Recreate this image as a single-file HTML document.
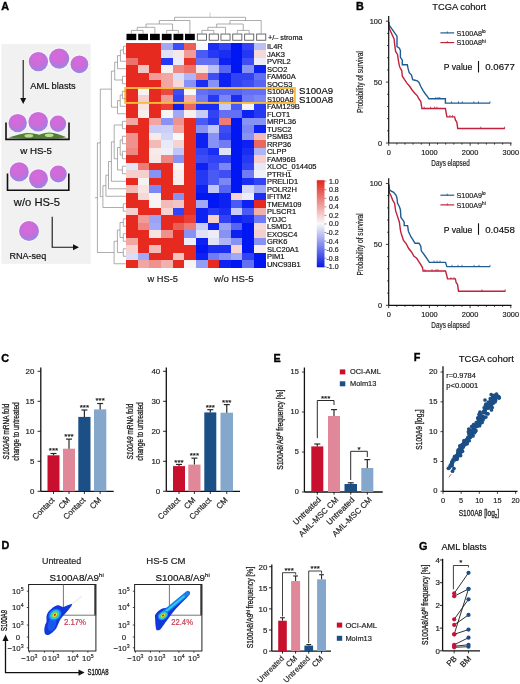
<!DOCTYPE html>
<html><head><meta charset="utf-8"><style>
html,body{margin:0;padding:0;background:#fff;overflow:hidden;width:520px;height:684px;}
svg{display:block;font-family:"Liberation Sans", sans-serif;will-change:transform;}
</style></head><body>
<svg width="520" height="684" viewBox="0 0 520 684">
<rect width="520" height="684" fill="#fff"/>
<text x="1.30" y="10.30" font-size="10.8" font-weight="bold" fill="#000" stroke="#000" stroke-width="0.35">A</text>
<text x="356.00" y="10.20" font-size="10.8" font-weight="bold" fill="#000" stroke="#000" stroke-width="0.35">B</text>
<text x="1.30" y="362.20" font-size="10.8" font-weight="bold" fill="#000" stroke="#000" stroke-width="0.35">C</text>
<text x="1.50" y="549.40" font-size="10.8" font-weight="bold" fill="#000" stroke="#000" stroke-width="0.35">D</text>
<text x="273.50" y="361.70" font-size="10.8" font-weight="bold" fill="#000" stroke="#000" stroke-width="0.35">E</text>
<text x="413.80" y="361.40" font-size="10.8" font-weight="bold" fill="#000" stroke="#000" stroke-width="0.35">F</text>
<text x="418.90" y="550.10" font-size="10.8" font-weight="bold" fill="#000" stroke="#000" stroke-width="0.35">G</text>
<rect x="1.40" y="43.90" width="89.20" height="219.90" fill="#f1f1f1" />
<defs><linearGradient id="cg" x1="0.35" y1="0" x2="0.6" y2="1"><stop offset="0" stop-color="#d466d8"/><stop offset="0.55" stop-color="#cc6cd8"/><stop offset="0.82" stop-color="#a884e0"/><stop offset="1" stop-color="#8c98e6"/></linearGradient></defs>
<defs><radialGradient id="cr" cx="0.45" cy="0.36" r="0.68"><stop offset="0" stop-color="#d66ade"/><stop offset="0.5" stop-color="#cc6cd8"/><stop offset="0.74" stop-color="#b078de"/><stop offset="1" stop-color="#8892e4"/></radialGradient></defs>
<circle cx="38.40" cy="61.60" r="10.70" fill="#fbf8fd" opacity="0.75"/>
<circle cx="38.40" cy="61.60" r="9.70" fill="url(#cr)"/>
<circle cx="59.20" cy="58.60" r="11.10" fill="#fbf8fd" opacity="0.75"/>
<circle cx="59.20" cy="58.60" r="10.10" fill="url(#cr)"/>
<circle cx="79.40" cy="64.30" r="9.90" fill="#fbf8fd" opacity="0.75"/>
<circle cx="79.40" cy="64.30" r="8.90" fill="url(#cr)"/>
<line x1="23.20" y1="60.00" x2="23.20" y2="99.00" stroke="#111" stroke-width="1.1"/>
<path d="M20.2,98 L26.2,98 L23.2,104 Z" fill="#111"/>
<text x="30.30" y="88.90" font-size="9.0" fill="#111" textLength="45.40" lengthAdjust="spacingAndGlyphs"  stroke="#111" stroke-width="0.18">AML blasts</text>
<circle cx="17.70" cy="123.10" r="10.20" fill="#fbf8fd" opacity="0.75"/>
<circle cx="17.70" cy="123.10" r="9.20" fill="url(#cr)"/>
<circle cx="38.20" cy="121.80" r="10.80" fill="#fbf8fd" opacity="0.75"/>
<circle cx="38.20" cy="121.80" r="9.80" fill="url(#cr)"/>
<circle cx="58.00" cy="123.70" r="9.20" fill="#fbf8fd" opacity="0.75"/>
<circle cx="58.00" cy="123.70" r="8.20" fill="url(#cr)"/>
<path d="M8.5,137.6 C16,135.6 22,133.0 28.8,133.0 C35,133.0 40,135.2 45.5,137.4 C40,138.5 35,138.7 28.8,138.7 C22,138.7 15,138.4 8.5,137.6 Z" fill="#4f7f30"/>
<path d="M32.5,137.4 C39,135.0 44,132.6 49.2,132.6 C55,132.6 60,135.0 66.5,137.2 C60,138.4 55,138.6 49.2,138.6 C43,138.6 38,138.3 32.5,137.4 Z" fill="#4f7f30"/>
<ellipse cx="28.8" cy="135.8" rx="4.4" ry="1.8" fill="#b6e08e"/>
<ellipse cx="49.2" cy="135.3" rx="4.4" ry="1.8" fill="#b6e08e"/>
<polyline points="6.00,122.40 6.00,139.40 69.00,139.40 69.00,122.40" fill="none" stroke="#111" stroke-width="1.6" stroke-linejoin="miter"/>
<text x="20.20" y="154.00" font-size="8.8" fill="#111" textLength="31.80" lengthAdjust="spacingAndGlyphs"  stroke="#111" stroke-width="0.18">w HS-5</text>
<circle cx="19.20" cy="171.90" r="10.60" fill="#fbf8fd" opacity="0.75"/>
<circle cx="19.20" cy="171.90" r="9.60" fill="url(#cr)"/>
<circle cx="38.50" cy="178.80" r="10.50" fill="#fbf8fd" opacity="0.75"/>
<circle cx="38.50" cy="178.80" r="9.50" fill="url(#cr)"/>
<circle cx="58.30" cy="174.00" r="9.50" fill="#fbf8fd" opacity="0.75"/>
<circle cx="58.30" cy="174.00" r="8.50" fill="url(#cr)"/>
<polyline points="7.50,173.50 7.50,190.30 68.80,190.30 68.80,173.50" fill="none" stroke="#111" stroke-width="1.6" stroke-linejoin="miter"/>
<text x="13.80" y="206.20" font-size="11.2" fill="#111" textLength="46.20" lengthAdjust="spacingAndGlyphs"  stroke="#111" stroke-width="0.18">w/o HS-5</text>
<circle cx="29.00" cy="231.00" r="11.00" fill="#fbf8fd" opacity="0.75"/>
<circle cx="29.00" cy="231.00" r="10.00" fill="url(#cr)"/>
<text x="9.40" y="258.70" font-size="9.2" fill="#111" textLength="36.80" lengthAdjust="spacingAndGlyphs"  stroke="#111" stroke-width="0.18">RNA-seq</text>
<polyline points="52.20,216.70 52.20,247.20 74.00,247.20" fill="none" stroke="#111" stroke-width="1.1" stroke-linejoin="miter"/>
<path d="M73,244.2 L79,247.2 L73,250.2 Z" fill="#111"/>
<g shape-rendering="crispEdges">
<rect x="126.20" y="42.50" width="11.67" height="7.55" fill="#e62a20" />
<rect x="137.82" y="42.50" width="11.67" height="7.55" fill="#e62a20" />
<rect x="149.43" y="42.50" width="11.67" height="7.55" fill="#e62a20" />
<rect x="161.05" y="42.50" width="11.67" height="7.55" fill="#a1a9f6" />
<rect x="172.67" y="42.50" width="11.67" height="7.55" fill="#3e4ef4" />
<rect x="184.28" y="42.50" width="11.67" height="7.55" fill="#ea5e56" />
<rect x="195.90" y="42.50" width="11.67" height="7.55" fill="#f8f8f8" />
<rect x="207.52" y="42.50" width="11.67" height="7.55" fill="#192df3" />
<rect x="219.13" y="42.50" width="11.67" height="7.55" fill="#3243f3" />
<rect x="230.75" y="42.50" width="11.67" height="7.55" fill="#0016f2" />
<rect x="242.37" y="42.50" width="11.67" height="7.55" fill="#3243f3" />
<rect x="253.98" y="42.50" width="11.67" height="7.55" fill="#bac0f6" />
<rect x="126.20" y="50.00" width="11.67" height="7.55" fill="#e62a20" />
<rect x="137.82" y="50.00" width="11.67" height="7.55" fill="#e62a20" />
<rect x="149.43" y="50.00" width="11.67" height="7.55" fill="#e62a20" />
<rect x="161.05" y="50.00" width="11.67" height="7.55" fill="#dfe1f7" />
<rect x="172.67" y="50.00" width="11.67" height="7.55" fill="#f7e8e7" />
<rect x="184.28" y="50.00" width="11.67" height="7.55" fill="#f09b97" />
<rect x="195.90" y="50.00" width="11.67" height="7.55" fill="#4a5af4" />
<rect x="207.52" y="50.00" width="11.67" height="7.55" fill="#2538f3" />
<rect x="219.13" y="50.00" width="11.67" height="7.55" fill="#192df3" />
<rect x="230.75" y="50.00" width="11.67" height="7.55" fill="#0016f2" />
<rect x="242.37" y="50.00" width="11.67" height="7.55" fill="#2538f3" />
<rect x="253.98" y="50.00" width="11.67" height="7.55" fill="#f5d9d8" />
<rect x="126.20" y="57.50" width="11.67" height="7.55" fill="#ec726c" />
<rect x="137.82" y="57.50" width="11.67" height="7.55" fill="#e62a20" />
<rect x="149.43" y="57.50" width="11.67" height="7.55" fill="#e62a20" />
<rect x="161.05" y="57.50" width="11.67" height="7.55" fill="#2538f3" />
<rect x="172.67" y="57.50" width="11.67" height="7.55" fill="#ecedf8" />
<rect x="184.28" y="57.50" width="11.67" height="7.55" fill="#e7342b" />
<rect x="195.90" y="57.50" width="11.67" height="7.55" fill="#6370f4" />
<rect x="207.52" y="57.50" width="11.67" height="7.55" fill="#6370f4" />
<rect x="219.13" y="57.50" width="11.67" height="7.55" fill="#0c21f2" />
<rect x="230.75" y="57.50" width="11.67" height="7.55" fill="#0016f2" />
<rect x="242.37" y="57.50" width="11.67" height="7.55" fill="#3e4ef4" />
<rect x="253.98" y="57.50" width="11.67" height="7.55" fill="#ecedf8" />
<rect x="126.20" y="65.00" width="11.67" height="7.55" fill="#e62a20" />
<rect x="137.82" y="65.00" width="11.67" height="7.55" fill="#f4c4c2" />
<rect x="149.43" y="65.00" width="11.67" height="7.55" fill="#e62a20" />
<rect x="161.05" y="65.00" width="11.67" height="7.55" fill="#f7f2f2" />
<rect x="172.67" y="65.00" width="11.67" height="7.55" fill="#ee8781" />
<rect x="184.28" y="65.00" width="11.67" height="7.55" fill="#ec726c" />
<rect x="195.90" y="65.00" width="11.67" height="7.55" fill="#f6e3e2" />
<rect x="207.52" y="65.00" width="11.67" height="7.55" fill="#bac0f6" />
<rect x="219.13" y="65.00" width="11.67" height="7.55" fill="#5765f4" />
<rect x="230.75" y="65.00" width="11.67" height="7.55" fill="#0016f2" />
<rect x="242.37" y="65.00" width="11.67" height="7.55" fill="#8892f5" />
<rect x="253.98" y="65.00" width="11.67" height="7.55" fill="#0c21f2" />
<rect x="126.20" y="72.50" width="11.67" height="7.55" fill="#e62a20" />
<rect x="137.82" y="72.50" width="11.67" height="7.55" fill="#e62a20" />
<rect x="149.43" y="72.50" width="11.67" height="7.55" fill="#f09b97" />
<rect x="161.05" y="72.50" width="11.67" height="7.55" fill="#f1a6a2" />
<rect x="172.67" y="72.50" width="11.67" height="7.55" fill="#daddf7" />
<rect x="184.28" y="72.50" width="11.67" height="7.55" fill="#aeb4f6" />
<rect x="195.90" y="72.50" width="11.67" height="7.55" fill="#ed7c76" />
<rect x="207.52" y="72.50" width="11.67" height="7.55" fill="#3e4ef4" />
<rect x="219.13" y="72.50" width="11.67" height="7.55" fill="#0c21f2" />
<rect x="230.75" y="72.50" width="11.67" height="7.55" fill="#3243f3" />
<rect x="242.37" y="72.50" width="11.67" height="7.55" fill="#3243f3" />
<rect x="253.98" y="72.50" width="11.67" height="7.55" fill="#6370f4" />
<rect x="126.20" y="80.00" width="11.67" height="7.55" fill="#e62a20" />
<rect x="137.82" y="80.00" width="11.67" height="7.55" fill="#e62a20" />
<rect x="149.43" y="80.00" width="11.67" height="7.55" fill="#e62a20" />
<rect x="161.05" y="80.00" width="11.67" height="7.55" fill="#f1a6a2" />
<rect x="172.67" y="80.00" width="11.67" height="7.55" fill="#f5d9d8" />
<rect x="184.28" y="80.00" width="11.67" height="7.55" fill="#8892f5" />
<rect x="195.90" y="80.00" width="11.67" height="7.55" fill="#192df3" />
<rect x="207.52" y="80.00" width="11.67" height="7.55" fill="#8892f5" />
<rect x="219.13" y="80.00" width="11.67" height="7.55" fill="#0c21f2" />
<rect x="230.75" y="80.00" width="11.67" height="7.55" fill="#3243f3" />
<rect x="242.37" y="80.00" width="11.67" height="7.55" fill="#3e4ef4" />
<rect x="253.98" y="80.00" width="11.67" height="7.55" fill="#5765f4" />
<rect x="126.20" y="87.50" width="11.67" height="7.55" fill="#e62a20" />
<rect x="137.82" y="87.50" width="11.67" height="7.55" fill="#f7f2f2" />
<rect x="149.43" y="87.50" width="11.67" height="7.55" fill="#e62a20" />
<rect x="161.05" y="87.50" width="11.67" height="7.55" fill="#e94940" />
<rect x="172.67" y="87.50" width="11.67" height="7.55" fill="#3e4ef4" />
<rect x="184.28" y="87.50" width="11.67" height="7.55" fill="#f8f8f8" />
<rect x="195.90" y="87.50" width="11.67" height="7.55" fill="#6370f4" />
<rect x="207.52" y="87.50" width="11.67" height="7.55" fill="#5765f4" />
<rect x="219.13" y="87.50" width="11.67" height="7.55" fill="#5765f4" />
<rect x="230.75" y="87.50" width="11.67" height="7.55" fill="#5765f4" />
<rect x="242.37" y="87.50" width="11.67" height="7.55" fill="#6370f4" />
<rect x="253.98" y="87.50" width="11.67" height="7.55" fill="#6370f4" />
<rect x="126.20" y="95.00" width="11.67" height="7.55" fill="#e62a20" />
<rect x="137.82" y="95.00" width="11.67" height="7.55" fill="#f4cfcd" />
<rect x="149.43" y="95.00" width="11.67" height="7.55" fill="#e62a20" />
<rect x="161.05" y="95.00" width="11.67" height="7.55" fill="#f09b97" />
<rect x="172.67" y="95.00" width="11.67" height="7.55" fill="#3243f3" />
<rect x="184.28" y="95.00" width="11.67" height="7.55" fill="#f2b0ac" />
<rect x="195.90" y="95.00" width="11.67" height="7.55" fill="#707cf5" />
<rect x="207.52" y="95.00" width="11.67" height="7.55" fill="#2538f3" />
<rect x="219.13" y="95.00" width="11.67" height="7.55" fill="#7c87f5" />
<rect x="230.75" y="95.00" width="11.67" height="7.55" fill="#192df3" />
<rect x="242.37" y="95.00" width="11.67" height="7.55" fill="#707cf5" />
<rect x="253.98" y="95.00" width="11.67" height="7.55" fill="#7c87f5" />
<rect x="126.20" y="102.50" width="11.67" height="7.55" fill="#e62a20" />
<rect x="137.82" y="102.50" width="11.67" height="7.55" fill="#f6e3e2" />
<rect x="149.43" y="102.50" width="11.67" height="7.55" fill="#e62a20" />
<rect x="161.05" y="102.50" width="11.67" height="7.55" fill="#e83f36" />
<rect x="172.67" y="102.50" width="11.67" height="7.55" fill="#0c21f2" />
<rect x="184.28" y="102.50" width="11.67" height="7.55" fill="#eb6861" />
<rect x="195.90" y="102.50" width="11.67" height="7.55" fill="#192df3" />
<rect x="207.52" y="102.50" width="11.67" height="7.55" fill="#192df3" />
<rect x="219.13" y="102.50" width="11.67" height="7.55" fill="#c6cbf7" />
<rect x="230.75" y="102.50" width="11.67" height="7.55" fill="#4a5af4" />
<rect x="242.37" y="102.50" width="11.67" height="7.55" fill="#f1f1f8" />
<rect x="253.98" y="102.50" width="11.67" height="7.55" fill="#2538f3" />
<rect x="126.20" y="110.00" width="11.67" height="7.55" fill="#e62a20" />
<rect x="137.82" y="110.00" width="11.67" height="7.55" fill="#f7eeed" />
<rect x="149.43" y="110.00" width="11.67" height="7.55" fill="#e62a20" />
<rect x="161.05" y="110.00" width="11.67" height="7.55" fill="#f8f4f4" />
<rect x="172.67" y="110.00" width="11.67" height="7.55" fill="#a1a9f6" />
<rect x="184.28" y="110.00" width="11.67" height="7.55" fill="#f7eeed" />
<rect x="195.90" y="110.00" width="11.67" height="7.55" fill="#c6cbf7" />
<rect x="207.52" y="110.00" width="11.67" height="7.55" fill="#3243f3" />
<rect x="219.13" y="110.00" width="11.67" height="7.55" fill="#6370f4" />
<rect x="230.75" y="110.00" width="11.67" height="7.55" fill="#6370f4" />
<rect x="242.37" y="110.00" width="11.67" height="7.55" fill="#0c21f2" />
<rect x="253.98" y="110.00" width="11.67" height="7.55" fill="#2538f3" />
<rect x="126.20" y="117.50" width="11.67" height="7.55" fill="#f1a6a2" />
<rect x="137.82" y="117.50" width="11.67" height="7.55" fill="#e62a20" />
<rect x="149.43" y="117.50" width="11.67" height="7.55" fill="#f1a6a2" />
<rect x="161.05" y="117.50" width="11.67" height="7.55" fill="#8892f5" />
<rect x="172.67" y="117.50" width="11.67" height="7.55" fill="#ef918c" />
<rect x="184.28" y="117.50" width="11.67" height="7.55" fill="#e62a20" />
<rect x="195.90" y="117.50" width="11.67" height="7.55" fill="#4a5af4" />
<rect x="207.52" y="117.50" width="11.67" height="7.55" fill="#2538f3" />
<rect x="219.13" y="117.50" width="11.67" height="7.55" fill="#ed7c76" />
<rect x="230.75" y="117.50" width="11.67" height="7.55" fill="#0016f2" />
<rect x="242.37" y="117.50" width="11.67" height="7.55" fill="#8892f5" />
<rect x="253.98" y="117.50" width="11.67" height="7.55" fill="#8892f5" />
<rect x="126.20" y="125.00" width="11.67" height="7.55" fill="#e62a20" />
<rect x="137.82" y="125.00" width="11.67" height="7.55" fill="#e62a20" />
<rect x="149.43" y="125.00" width="11.67" height="7.55" fill="#c6cbf7" />
<rect x="161.05" y="125.00" width="11.67" height="7.55" fill="#cbcff7" />
<rect x="172.67" y="125.00" width="11.67" height="7.55" fill="#f1a6a2" />
<rect x="184.28" y="125.00" width="11.67" height="7.55" fill="#e62a20" />
<rect x="195.90" y="125.00" width="11.67" height="7.55" fill="#8892f5" />
<rect x="207.52" y="125.00" width="11.67" height="7.55" fill="#c1c6f7" />
<rect x="219.13" y="125.00" width="11.67" height="7.55" fill="#3e4ef4" />
<rect x="230.75" y="125.00" width="11.67" height="7.55" fill="#0016f2" />
<rect x="242.37" y="125.00" width="11.67" height="7.55" fill="#7c87f5" />
<rect x="253.98" y="125.00" width="11.67" height="7.55" fill="#0c21f2" />
<rect x="126.20" y="132.50" width="11.67" height="7.55" fill="#ef918c" />
<rect x="137.82" y="132.50" width="11.67" height="7.55" fill="#e62a20" />
<rect x="149.43" y="132.50" width="11.67" height="7.55" fill="#f7eae9" />
<rect x="161.05" y="132.50" width="11.67" height="7.55" fill="#d3d6f7" />
<rect x="172.67" y="132.50" width="11.67" height="7.55" fill="#f8f8f8" />
<rect x="184.28" y="132.50" width="11.67" height="7.55" fill="#e62a20" />
<rect x="195.90" y="132.50" width="11.67" height="7.55" fill="#0c21f2" />
<rect x="207.52" y="132.50" width="11.67" height="7.55" fill="#8892f5" />
<rect x="219.13" y="132.50" width="11.67" height="7.55" fill="#3243f3" />
<rect x="230.75" y="132.50" width="11.67" height="7.55" fill="#0016f2" />
<rect x="242.37" y="132.50" width="11.67" height="7.55" fill="#8892f5" />
<rect x="253.98" y="132.50" width="11.67" height="7.55" fill="#f3bab7" />
<rect x="126.20" y="140.00" width="11.67" height="7.55" fill="#ef918c" />
<rect x="137.82" y="140.00" width="11.67" height="7.55" fill="#e62a20" />
<rect x="149.43" y="140.00" width="11.67" height="7.55" fill="#f3bab7" />
<rect x="161.05" y="140.00" width="11.67" height="7.55" fill="#e9eaf8" />
<rect x="172.67" y="140.00" width="11.67" height="7.55" fill="#f5d3d1" />
<rect x="184.28" y="140.00" width="11.67" height="7.55" fill="#e62a20" />
<rect x="195.90" y="140.00" width="11.67" height="7.55" fill="#0c21f2" />
<rect x="207.52" y="140.00" width="11.67" height="7.55" fill="#8892f5" />
<rect x="219.13" y="140.00" width="11.67" height="7.55" fill="#707cf5" />
<rect x="230.75" y="140.00" width="11.67" height="7.55" fill="#0016f2" />
<rect x="242.37" y="140.00" width="11.67" height="7.55" fill="#0c21f2" />
<rect x="253.98" y="140.00" width="11.67" height="7.55" fill="#eb6861" />
<rect x="126.20" y="147.50" width="11.67" height="7.55" fill="#ee8781" />
<rect x="137.82" y="147.50" width="11.67" height="7.55" fill="#e62a20" />
<rect x="149.43" y="147.50" width="11.67" height="7.55" fill="#f7eae9" />
<rect x="161.05" y="147.50" width="11.67" height="7.55" fill="#eeeff8" />
<rect x="172.67" y="147.50" width="11.67" height="7.55" fill="#c1c6f7" />
<rect x="184.28" y="147.50" width="11.67" height="7.55" fill="#e62a20" />
<rect x="195.90" y="147.50" width="11.67" height="7.55" fill="#3243f3" />
<rect x="207.52" y="147.50" width="11.67" height="7.55" fill="#192df3" />
<rect x="219.13" y="147.50" width="11.67" height="7.55" fill="#dfe1f7" />
<rect x="230.75" y="147.50" width="11.67" height="7.55" fill="#0016f2" />
<rect x="242.37" y="147.50" width="11.67" height="7.55" fill="#192df3" />
<rect x="253.98" y="147.50" width="11.67" height="7.55" fill="#aeb4f6" />
<rect x="126.20" y="155.00" width="11.67" height="7.55" fill="#e62a20" />
<rect x="137.82" y="155.00" width="11.67" height="7.55" fill="#e62a20" />
<rect x="149.43" y="155.00" width="11.67" height="7.55" fill="#f7e8e7" />
<rect x="161.05" y="155.00" width="11.67" height="7.55" fill="#ee8781" />
<rect x="172.67" y="155.00" width="11.67" height="7.55" fill="#8892f5" />
<rect x="184.28" y="155.00" width="11.67" height="7.55" fill="#e62a20" />
<rect x="195.90" y="155.00" width="11.67" height="7.55" fill="#3e4ef4" />
<rect x="207.52" y="155.00" width="11.67" height="7.55" fill="#3243f3" />
<rect x="219.13" y="155.00" width="11.67" height="7.55" fill="#3243f3" />
<rect x="230.75" y="155.00" width="11.67" height="7.55" fill="#0016f2" />
<rect x="242.37" y="155.00" width="11.67" height="7.55" fill="#2538f3" />
<rect x="253.98" y="155.00" width="11.67" height="7.55" fill="#f4cfcd" />
<rect x="126.20" y="162.50" width="11.67" height="7.55" fill="#e4e6f8" />
<rect x="137.82" y="162.50" width="11.67" height="7.55" fill="#ed7c76" />
<rect x="149.43" y="162.50" width="11.67" height="7.55" fill="#e62a20" />
<rect x="161.05" y="162.50" width="11.67" height="7.55" fill="#e62a20" />
<rect x="172.67" y="162.50" width="11.67" height="7.55" fill="#f8f4f4" />
<rect x="184.28" y="162.50" width="11.67" height="7.55" fill="#e62a20" />
<rect x="195.90" y="162.50" width="11.67" height="7.55" fill="#0c21f2" />
<rect x="207.52" y="162.50" width="11.67" height="7.55" fill="#3e4ef4" />
<rect x="219.13" y="162.50" width="11.67" height="7.55" fill="#7c87f5" />
<rect x="230.75" y="162.50" width="11.67" height="7.55" fill="#0016f2" />
<rect x="242.37" y="162.50" width="11.67" height="7.55" fill="#3243f3" />
<rect x="253.98" y="162.50" width="11.67" height="7.55" fill="#e7e8f8" />
<rect x="126.20" y="170.00" width="11.67" height="7.55" fill="#f4cfcd" />
<rect x="137.82" y="170.00" width="11.67" height="7.55" fill="#f4cfcd" />
<rect x="149.43" y="170.00" width="11.67" height="7.55" fill="#8892f5" />
<rect x="161.05" y="170.00" width="11.67" height="7.55" fill="#e62a20" />
<rect x="172.67" y="170.00" width="11.67" height="7.55" fill="#f7eeed" />
<rect x="184.28" y="170.00" width="11.67" height="7.55" fill="#e62a20" />
<rect x="195.90" y="170.00" width="11.67" height="7.55" fill="#2538f3" />
<rect x="207.52" y="170.00" width="11.67" height="7.55" fill="#4a5af4" />
<rect x="219.13" y="170.00" width="11.67" height="7.55" fill="#3e4ef4" />
<rect x="230.75" y="170.00" width="11.67" height="7.55" fill="#0016f2" />
<rect x="242.37" y="170.00" width="11.67" height="7.55" fill="#707cf5" />
<rect x="253.98" y="170.00" width="11.67" height="7.55" fill="#f1f1f8" />
<rect x="126.20" y="177.50" width="11.67" height="7.55" fill="#e62a20" />
<rect x="137.82" y="177.50" width="11.67" height="7.55" fill="#f7f2f2" />
<rect x="149.43" y="177.50" width="11.67" height="7.55" fill="#e62a20" />
<rect x="161.05" y="177.50" width="11.67" height="7.55" fill="#e62a20" />
<rect x="172.67" y="177.50" width="11.67" height="7.55" fill="#f7eceb" />
<rect x="184.28" y="177.50" width="11.67" height="7.55" fill="#e62a20" />
<rect x="195.90" y="177.50" width="11.67" height="7.55" fill="#2538f3" />
<rect x="207.52" y="177.50" width="11.67" height="7.55" fill="#4a5af4" />
<rect x="219.13" y="177.50" width="11.67" height="7.55" fill="#7c87f5" />
<rect x="230.75" y="177.50" width="11.67" height="7.55" fill="#0016f2" />
<rect x="242.37" y="177.50" width="11.67" height="7.55" fill="#192df3" />
<rect x="253.98" y="177.50" width="11.67" height="7.55" fill="#3243f3" />
<rect x="126.20" y="185.00" width="11.67" height="7.55" fill="#f3bab7" />
<rect x="137.82" y="185.00" width="11.67" height="7.55" fill="#f6e3e2" />
<rect x="149.43" y="185.00" width="11.67" height="7.55" fill="#7c87f5" />
<rect x="161.05" y="185.00" width="11.67" height="7.55" fill="#e62a20" />
<rect x="172.67" y="185.00" width="11.67" height="7.55" fill="#e62a20" />
<rect x="184.28" y="185.00" width="11.67" height="7.55" fill="#e62a20" />
<rect x="195.90" y="185.00" width="11.67" height="7.55" fill="#0c21f2" />
<rect x="207.52" y="185.00" width="11.67" height="7.55" fill="#c1c6f7" />
<rect x="219.13" y="185.00" width="11.67" height="7.55" fill="#5765f4" />
<rect x="230.75" y="185.00" width="11.67" height="7.55" fill="#0016f2" />
<rect x="242.37" y="185.00" width="11.67" height="7.55" fill="#d3d6f7" />
<rect x="253.98" y="185.00" width="11.67" height="7.55" fill="#a1a9f6" />
<rect x="126.20" y="192.50" width="11.67" height="7.55" fill="#e62a20" />
<rect x="137.82" y="192.50" width="11.67" height="7.55" fill="#f5d9d8" />
<rect x="149.43" y="192.50" width="11.67" height="7.55" fill="#f8f4f4" />
<rect x="161.05" y="192.50" width="11.67" height="7.55" fill="#e62a20" />
<rect x="172.67" y="192.50" width="11.67" height="7.55" fill="#8892f5" />
<rect x="184.28" y="192.50" width="11.67" height="7.55" fill="#e62a20" />
<rect x="195.90" y="192.50" width="11.67" height="7.55" fill="#0016f2" />
<rect x="207.52" y="192.50" width="11.67" height="7.55" fill="#0016f2" />
<rect x="219.13" y="192.50" width="11.67" height="7.55" fill="#0c21f2" />
<rect x="230.75" y="192.50" width="11.67" height="7.55" fill="#f5d3d1" />
<rect x="242.37" y="192.50" width="11.67" height="7.55" fill="#ecedf8" />
<rect x="253.98" y="192.50" width="11.67" height="7.55" fill="#192df3" />
<rect x="126.20" y="200.00" width="11.67" height="7.55" fill="#e62a20" />
<rect x="137.82" y="200.00" width="11.67" height="7.55" fill="#e62a20" />
<rect x="149.43" y="200.00" width="11.67" height="7.55" fill="#f8f4f4" />
<rect x="161.05" y="200.00" width="11.67" height="7.55" fill="#f3bab7" />
<rect x="172.67" y="200.00" width="11.67" height="7.55" fill="#f4c4c2" />
<rect x="184.28" y="200.00" width="11.67" height="7.55" fill="#e62a20" />
<rect x="195.90" y="200.00" width="11.67" height="7.55" fill="#a1a9f6" />
<rect x="207.52" y="200.00" width="11.67" height="7.55" fill="#0016f2" />
<rect x="219.13" y="200.00" width="11.67" height="7.55" fill="#0c21f2" />
<rect x="230.75" y="200.00" width="11.67" height="7.55" fill="#4a5af4" />
<rect x="242.37" y="200.00" width="11.67" height="7.55" fill="#0c21f2" />
<rect x="253.98" y="200.00" width="11.67" height="7.55" fill="#e62a20" />
<rect x="126.20" y="207.50" width="11.67" height="7.55" fill="#f4cfcd" />
<rect x="137.82" y="207.50" width="11.67" height="7.55" fill="#e62a20" />
<rect x="149.43" y="207.50" width="11.67" height="7.55" fill="#e62a20" />
<rect x="161.05" y="207.50" width="11.67" height="7.55" fill="#f5d3d1" />
<rect x="172.67" y="207.50" width="11.67" height="7.55" fill="#3243f3" />
<rect x="184.28" y="207.50" width="11.67" height="7.55" fill="#e62a20" />
<rect x="195.90" y="207.50" width="11.67" height="7.55" fill="#0c21f2" />
<rect x="207.52" y="207.50" width="11.67" height="7.55" fill="#2538f3" />
<rect x="219.13" y="207.50" width="11.67" height="7.55" fill="#192df3" />
<rect x="230.75" y="207.50" width="11.67" height="7.55" fill="#c6cbf7" />
<rect x="242.37" y="207.50" width="11.67" height="7.55" fill="#4a5af4" />
<rect x="253.98" y="207.50" width="11.67" height="7.55" fill="#f2b0ac" />
<rect x="126.20" y="215.00" width="11.67" height="7.55" fill="#e62a20" />
<rect x="137.82" y="215.00" width="11.67" height="7.55" fill="#f09b97" />
<rect x="149.43" y="215.00" width="11.67" height="7.55" fill="#9aa2f6" />
<rect x="161.05" y="215.00" width="11.67" height="7.55" fill="#e62a20" />
<rect x="172.67" y="215.00" width="11.67" height="7.55" fill="#e62a20" />
<rect x="184.28" y="215.00" width="11.67" height="7.55" fill="#e83f36" />
<rect x="195.90" y="215.00" width="11.67" height="7.55" fill="#0c21f2" />
<rect x="207.52" y="215.00" width="11.67" height="7.55" fill="#f4cfcd" />
<rect x="219.13" y="215.00" width="11.67" height="7.55" fill="#3243f3" />
<rect x="230.75" y="215.00" width="11.67" height="7.55" fill="#0c21f2" />
<rect x="242.37" y="215.00" width="11.67" height="7.55" fill="#192df3" />
<rect x="253.98" y="215.00" width="11.67" height="7.55" fill="#707cf5" />
<rect x="126.20" y="222.50" width="11.67" height="7.55" fill="#e62a20" />
<rect x="137.82" y="222.50" width="11.67" height="7.55" fill="#ee8781" />
<rect x="149.43" y="222.50" width="11.67" height="7.55" fill="#a1a9f6" />
<rect x="161.05" y="222.50" width="11.67" height="7.55" fill="#e62a20" />
<rect x="172.67" y="222.50" width="11.67" height="7.55" fill="#ea5e56" />
<rect x="184.28" y="222.50" width="11.67" height="7.55" fill="#ed7c76" />
<rect x="195.90" y="222.50" width="11.67" height="7.55" fill="#c6cbf7" />
<rect x="207.52" y="222.50" width="11.67" height="7.55" fill="#0c21f2" />
<rect x="219.13" y="222.50" width="11.67" height="7.55" fill="#9aa2f6" />
<rect x="230.75" y="222.50" width="11.67" height="7.55" fill="#5765f4" />
<rect x="242.37" y="222.50" width="11.67" height="7.55" fill="#0016f2" />
<rect x="253.98" y="222.50" width="11.67" height="7.55" fill="#f5d9d8" />
<rect x="126.20" y="230.00" width="11.67" height="7.55" fill="#e62a20" />
<rect x="137.82" y="230.00" width="11.67" height="7.55" fill="#e62a20" />
<rect x="149.43" y="230.00" width="11.67" height="7.55" fill="#f6e3e2" />
<rect x="161.05" y="230.00" width="11.67" height="7.55" fill="#ef918c" />
<rect x="172.67" y="230.00" width="11.67" height="7.55" fill="#e62a20" />
<rect x="184.28" y="230.00" width="11.67" height="7.55" fill="#8892f5" />
<rect x="195.90" y="230.00" width="11.67" height="7.55" fill="#dfe1f7" />
<rect x="207.52" y="230.00" width="11.67" height="7.55" fill="#ecedf8" />
<rect x="219.13" y="230.00" width="11.67" height="7.55" fill="#8892f5" />
<rect x="230.75" y="230.00" width="11.67" height="7.55" fill="#0c21f2" />
<rect x="242.37" y="230.00" width="11.67" height="7.55" fill="#0016f2" />
<rect x="253.98" y="230.00" width="11.67" height="7.55" fill="#f4cfcd" />
<rect x="126.20" y="237.50" width="11.67" height="7.55" fill="#f1a6a2" />
<rect x="137.82" y="237.50" width="11.67" height="7.55" fill="#e62a20" />
<rect x="149.43" y="237.50" width="11.67" height="7.55" fill="#e62a20" />
<rect x="161.05" y="237.50" width="11.67" height="7.55" fill="#e62a20" />
<rect x="172.67" y="237.50" width="11.67" height="7.55" fill="#e62a20" />
<rect x="184.28" y="237.50" width="11.67" height="7.55" fill="#ecedf8" />
<rect x="195.90" y="237.50" width="11.67" height="7.55" fill="#0c21f2" />
<rect x="207.52" y="237.50" width="11.67" height="7.55" fill="#dfe1f7" />
<rect x="219.13" y="237.50" width="11.67" height="7.55" fill="#aeb4f6" />
<rect x="230.75" y="237.50" width="11.67" height="7.55" fill="#8892f5" />
<rect x="242.37" y="237.50" width="11.67" height="7.55" fill="#0016f2" />
<rect x="253.98" y="237.50" width="11.67" height="7.55" fill="#8892f5" />
<rect x="126.20" y="245.00" width="11.67" height="7.55" fill="#f5d3d1" />
<rect x="137.82" y="245.00" width="11.67" height="7.55" fill="#e62a20" />
<rect x="149.43" y="245.00" width="11.67" height="7.55" fill="#f3bab7" />
<rect x="161.05" y="245.00" width="11.67" height="7.55" fill="#e62a20" />
<rect x="172.67" y="245.00" width="11.67" height="7.55" fill="#e62a20" />
<rect x="184.28" y="245.00" width="11.67" height="7.55" fill="#e62a20" />
<rect x="195.90" y="245.00" width="11.67" height="7.55" fill="#0016f2" />
<rect x="207.52" y="245.00" width="11.67" height="7.55" fill="#192df3" />
<rect x="219.13" y="245.00" width="11.67" height="7.55" fill="#192df3" />
<rect x="230.75" y="245.00" width="11.67" height="7.55" fill="#f5d3d1" />
<rect x="242.37" y="245.00" width="11.67" height="7.55" fill="#0016f2" />
<rect x="253.98" y="245.00" width="11.67" height="7.55" fill="#f7eeed" />
<rect x="126.20" y="252.50" width="11.67" height="7.55" fill="#daddf7" />
<rect x="137.82" y="252.50" width="11.67" height="7.55" fill="#a1a9f6" />
<rect x="149.43" y="252.50" width="11.67" height="7.55" fill="#e62a20" />
<rect x="161.05" y="252.50" width="11.67" height="7.55" fill="#e62a20" />
<rect x="172.67" y="252.50" width="11.67" height="7.55" fill="#f4c4c2" />
<rect x="184.28" y="252.50" width="11.67" height="7.55" fill="#e62a20" />
<rect x="195.90" y="252.50" width="11.67" height="7.55" fill="#0c21f2" />
<rect x="207.52" y="252.50" width="11.67" height="7.55" fill="#707cf5" />
<rect x="219.13" y="252.50" width="11.67" height="7.55" fill="#8892f5" />
<rect x="230.75" y="252.50" width="11.67" height="7.55" fill="#a1a9f6" />
<rect x="242.37" y="252.50" width="11.67" height="7.55" fill="#3243f3" />
<rect x="253.98" y="252.50" width="11.67" height="7.55" fill="#0016f2" />
<rect x="126.20" y="260.00" width="11.67" height="7.55" fill="#e62a20" />
<rect x="137.82" y="260.00" width="11.67" height="7.55" fill="#f1a6a2" />
<rect x="149.43" y="260.00" width="11.67" height="7.55" fill="#ef918c" />
<rect x="161.05" y="260.00" width="11.67" height="7.55" fill="#f2b0ac" />
<rect x="172.67" y="260.00" width="11.67" height="7.55" fill="#e62a20" />
<rect x="184.28" y="260.00" width="11.67" height="7.55" fill="#f8f4f4" />
<rect x="195.90" y="260.00" width="11.67" height="7.55" fill="#959ef6" />
<rect x="207.52" y="260.00" width="11.67" height="7.55" fill="#e62a20" />
<rect x="219.13" y="260.00" width="11.67" height="7.55" fill="#0c21f2" />
<rect x="230.75" y="260.00" width="11.67" height="7.55" fill="#0016f2" />
<rect x="242.37" y="260.00" width="11.67" height="7.55" fill="#6370f4" />
<rect x="253.98" y="260.00" width="11.67" height="7.55" fill="#0016f2" />
</g>
<rect x="125.2" y="88.0" width="169.70" height="14.9" fill="none" stroke="#f6bc3e" stroke-width="1.9"/>
<text x="266.90" y="49.45" font-size="7.5" fill="#111"  stroke="#111" stroke-width="0.18">IL4R</text>
<text x="266.90" y="56.95" font-size="7.5" fill="#111"  stroke="#111" stroke-width="0.18">JAK3</text>
<text x="266.90" y="64.45" font-size="7.5" fill="#111"  stroke="#111" stroke-width="0.18">PVRL2</text>
<text x="266.90" y="71.95" font-size="7.5" fill="#111"  stroke="#111" stroke-width="0.18">SCO2</text>
<text x="266.90" y="79.45" font-size="7.5" fill="#111"  stroke="#111" stroke-width="0.18">FAM60A</text>
<text x="266.90" y="86.95" font-size="7.5" fill="#111"  stroke="#111" stroke-width="0.18">SOCS3</text>
<text x="266.90" y="94.45" font-size="7.5" fill="#111"  stroke="#111" stroke-width="0.18">S100A9</text>
<text x="266.90" y="101.95" font-size="7.5" fill="#111"  stroke="#111" stroke-width="0.18">S100A8</text>
<text x="266.90" y="109.45" font-size="7.5" fill="#111"  stroke="#111" stroke-width="0.18">FAM129B</text>
<text x="266.90" y="116.95" font-size="7.5" fill="#111"  stroke="#111" stroke-width="0.18">FLOT1</text>
<text x="266.90" y="124.45" font-size="7.5" fill="#111"  stroke="#111" stroke-width="0.18">MRPL36</text>
<text x="266.90" y="131.95" font-size="7.5" fill="#111"  stroke="#111" stroke-width="0.18">TUSC2</text>
<text x="266.90" y="139.45" font-size="7.5" fill="#111"  stroke="#111" stroke-width="0.18">PSMB3</text>
<text x="266.90" y="146.95" font-size="7.5" fill="#111"  stroke="#111" stroke-width="0.18">RRP36</text>
<text x="266.90" y="154.45" font-size="7.5" fill="#111"  stroke="#111" stroke-width="0.18">CLPP</text>
<text x="266.90" y="161.95" font-size="7.5" fill="#111"  stroke="#111" stroke-width="0.18">FAM96B</text>
<text x="266.90" y="169.45" font-size="7.5" fill="#111"  stroke="#111" stroke-width="0.18">XLOC_014405</text>
<text x="266.90" y="176.95" font-size="7.5" fill="#111"  stroke="#111" stroke-width="0.18">PTRH1</text>
<text x="266.90" y="184.45" font-size="7.5" fill="#111"  stroke="#111" stroke-width="0.18">PRELID1</text>
<text x="266.90" y="191.95" font-size="7.5" fill="#111"  stroke="#111" stroke-width="0.18">POLR2H</text>
<text x="266.90" y="199.45" font-size="7.5" fill="#111"  stroke="#111" stroke-width="0.18">IFITM2</text>
<text x="266.90" y="206.95" font-size="7.5" fill="#111"  stroke="#111" stroke-width="0.18">TMEM109</text>
<text x="266.90" y="214.45" font-size="7.5" fill="#111"  stroke="#111" stroke-width="0.18">PLSCR1</text>
<text x="266.90" y="221.95" font-size="7.5" fill="#111"  stroke="#111" stroke-width="0.18">YDJC</text>
<text x="266.90" y="229.45" font-size="7.5" fill="#111"  stroke="#111" stroke-width="0.18">LSMD1</text>
<text x="266.90" y="236.95" font-size="7.5" fill="#111"  stroke="#111" stroke-width="0.18">EXOSC4</text>
<text x="266.90" y="244.45" font-size="7.5" fill="#111"  stroke="#111" stroke-width="0.18">GRK6</text>
<text x="266.90" y="251.95" font-size="7.5" fill="#111"  stroke="#111" stroke-width="0.18">SLC20A1</text>
<text x="266.90" y="259.45" font-size="7.5" fill="#111"  stroke="#111" stroke-width="0.18">PIM1</text>
<text x="266.90" y="266.95" font-size="7.5" fill="#111"  stroke="#111" stroke-width="0.18">UNC93B1</text>
<text x="299.00" y="94.20" font-size="9.0" fill="#111" textLength="34.20" lengthAdjust="spacingAndGlyphs"  stroke="#111" stroke-width="0.18">S100A9</text>
<text x="299.00" y="102.70" font-size="9.0" fill="#111" textLength="34.20" lengthAdjust="spacingAndGlyphs"  stroke="#111" stroke-width="0.18">S100A8</text>
<rect x="126.50" y="33.80" width="9.80" height="6.30" fill="#000" />
<rect x="138.20" y="33.80" width="9.80" height="6.30" fill="#000" />
<rect x="150.00" y="33.80" width="9.80" height="6.30" fill="#000" />
<rect x="161.80" y="33.80" width="9.80" height="6.30" fill="#000" />
<rect x="173.50" y="33.80" width="9.80" height="6.30" fill="#000" />
<rect x="185.00" y="33.80" width="9.80" height="6.30" fill="#000" />
<rect x="197.35" y="34.05" width="9.1" height="6.2" fill="#fff" stroke="#5a5a5a" stroke-width="0.9"/>
<rect x="209.25" y="34.05" width="9.1" height="6.2" fill="#fff" stroke="#5a5a5a" stroke-width="0.9"/>
<rect x="220.95" y="34.05" width="9.1" height="6.2" fill="#fff" stroke="#5a5a5a" stroke-width="0.9"/>
<rect x="232.75" y="34.05" width="9.1" height="6.2" fill="#fff" stroke="#5a5a5a" stroke-width="0.9"/>
<rect x="244.65" y="34.05" width="9.1" height="6.2" fill="#fff" stroke="#5a5a5a" stroke-width="0.9"/>
<rect x="256.65" y="34.05" width="9.1" height="6.2" fill="#fff" stroke="#5a5a5a" stroke-width="0.9"/>
<text x="267.90" y="39.50" font-size="7.3" fill="#111"  stroke="#111" stroke-width="0.18">+/– stroma</text>
<polyline points="131.40,33.80 131.40,30.40 143.10,30.40 143.10,33.80" fill="none" stroke="#8a8a8a" stroke-width="0.7" stroke-linejoin="miter"/>
<polyline points="137.25,30.40 137.25,27.30 154.90,27.30 154.90,33.80" fill="none" stroke="#8a8a8a" stroke-width="0.7" stroke-linejoin="miter"/>
<polyline points="166.70,33.80 166.70,30.40 178.40,30.40 178.40,33.80" fill="none" stroke="#8a8a8a" stroke-width="0.7" stroke-linejoin="miter"/>
<polyline points="146.07,27.30 146.07,24.00 172.55,24.00 172.55,30.40" fill="none" stroke="#8a8a8a" stroke-width="0.7" stroke-linejoin="miter"/>
<polyline points="159.31,24.00 159.31,20.50 189.90,20.50 189.90,33.80" fill="none" stroke="#8a8a8a" stroke-width="0.7" stroke-linejoin="miter"/>
<polyline points="201.90,33.80 201.90,30.40 213.80,30.40 213.80,33.80" fill="none" stroke="#8a8a8a" stroke-width="0.7" stroke-linejoin="miter"/>
<polyline points="207.85,30.40 207.85,27.30 225.50,27.30 225.50,33.80" fill="none" stroke="#8a8a8a" stroke-width="0.7" stroke-linejoin="miter"/>
<polyline points="237.30,33.80 237.30,30.40 249.20,30.40 249.20,33.80" fill="none" stroke="#8a8a8a" stroke-width="0.7" stroke-linejoin="miter"/>
<polyline points="216.68,27.30 216.68,24.00 243.25,24.00 243.25,30.40" fill="none" stroke="#8a8a8a" stroke-width="0.7" stroke-linejoin="miter"/>
<polyline points="229.96,24.00 229.96,20.50 261.20,20.50 261.20,33.80" fill="none" stroke="#8a8a8a" stroke-width="0.7" stroke-linejoin="miter"/>
<polyline points="174.61,20.50 174.61,17.30 245.58,17.30 245.58,20.50" fill="none" stroke="#8a8a8a" stroke-width="0.7" stroke-linejoin="miter"/>
<line x1="210.09" y1="17.30" x2="210.09" y2="12.50" stroke="#a8a8a8" stroke-width="0.6"/>
<polyline points="126.00,46.25 123.50,46.25 123.50,53.75 126.00,53.75" fill="none" stroke="#8a8a8a" stroke-width="0.7" stroke-linejoin="miter"/>
<polyline points="123.50,50.00 120.40,50.00 120.40,61.25 126.00,61.25" fill="none" stroke="#8a8a8a" stroke-width="0.7" stroke-linejoin="miter"/>
<polyline points="120.40,55.62 117.50,55.62 117.50,68.75 126.00,68.75" fill="none" stroke="#8a8a8a" stroke-width="0.7" stroke-linejoin="miter"/>
<polyline points="126.00,76.25 122.50,76.25 122.50,83.75 126.00,83.75" fill="none" stroke="#8a8a8a" stroke-width="0.7" stroke-linejoin="miter"/>
<polyline points="117.50,62.19 114.70,62.19 114.70,80.00 122.50,80.00" fill="none" stroke="#8a8a8a" stroke-width="0.7" stroke-linejoin="miter"/>
<polyline points="126.00,91.25 122.40,91.25 122.40,98.75 126.00,98.75" fill="none" stroke="#8a8a8a" stroke-width="0.7" stroke-linejoin="miter"/>
<polyline points="122.40,95.00 120.20,95.00 120.20,106.25 126.00,106.25" fill="none" stroke="#8a8a8a" stroke-width="0.7" stroke-linejoin="miter"/>
<polyline points="120.20,100.62 117.50,100.62 117.50,113.75 126.00,113.75" fill="none" stroke="#8a8a8a" stroke-width="0.7" stroke-linejoin="miter"/>
<polyline points="114.70,71.09 111.40,71.09 111.40,107.19 117.50,107.19" fill="none" stroke="#8a8a8a" stroke-width="0.7" stroke-linejoin="miter"/>
<polyline points="126.00,121.25 122.40,121.25 122.40,128.75 126.00,128.75" fill="none" stroke="#8a8a8a" stroke-width="0.7" stroke-linejoin="miter"/>
<polyline points="126.00,136.25 122.40,136.25 122.40,143.75 126.00,143.75" fill="none" stroke="#8a8a8a" stroke-width="0.7" stroke-linejoin="miter"/>
<polyline points="126.00,151.25 122.40,151.25 122.40,158.75 126.00,158.75" fill="none" stroke="#8a8a8a" stroke-width="0.7" stroke-linejoin="miter"/>
<polyline points="122.40,140.00 120.20,140.00 120.20,155.00 122.40,155.00" fill="none" stroke="#8a8a8a" stroke-width="0.7" stroke-linejoin="miter"/>
<polyline points="126.00,166.25 122.40,166.25 122.40,173.75 126.00,173.75" fill="none" stroke="#8a8a8a" stroke-width="0.7" stroke-linejoin="miter"/>
<polyline points="120.20,147.50 117.50,147.50 117.50,170.00 122.40,170.00" fill="none" stroke="#8a8a8a" stroke-width="0.7" stroke-linejoin="miter"/>
<polyline points="122.40,125.00 114.20,125.00 114.20,158.75 117.50,158.75" fill="none" stroke="#8a8a8a" stroke-width="0.7" stroke-linejoin="miter"/>
<polyline points="114.20,141.88 111.40,141.88 111.40,181.25 126.00,181.25" fill="none" stroke="#8a8a8a" stroke-width="0.7" stroke-linejoin="miter"/>
<polyline points="111.40,161.56 108.50,161.56 108.50,188.75 126.00,188.75" fill="none" stroke="#8a8a8a" stroke-width="0.7" stroke-linejoin="miter"/>
<polyline points="108.50,175.16 105.90,175.16 105.90,196.25 126.00,196.25" fill="none" stroke="#8a8a8a" stroke-width="0.7" stroke-linejoin="miter"/>
<polyline points="126.00,203.75 123.30,203.75 123.30,211.25 126.00,211.25" fill="none" stroke="#8a8a8a" stroke-width="0.7" stroke-linejoin="miter"/>
<polyline points="105.90,185.70 102.90,185.70 102.90,207.50 123.30,207.50" fill="none" stroke="#8a8a8a" stroke-width="0.7" stroke-linejoin="miter"/>
<polyline points="111.40,89.14 100.30,89.14 100.30,196.60 102.90,196.60" fill="none" stroke="#8a8a8a" stroke-width="0.7" stroke-linejoin="miter"/>
<polyline points="126.00,218.75 123.30,218.75 123.30,226.25 126.00,226.25" fill="none" stroke="#8a8a8a" stroke-width="0.7" stroke-linejoin="miter"/>
<polyline points="126.00,233.75 123.30,233.75 123.30,241.25 126.00,241.25" fill="none" stroke="#8a8a8a" stroke-width="0.7" stroke-linejoin="miter"/>
<polyline points="123.30,222.50 120.00,222.50 120.00,237.50 123.30,237.50" fill="none" stroke="#8a8a8a" stroke-width="0.7" stroke-linejoin="miter"/>
<polyline points="126.00,248.75 123.30,248.75 123.30,256.25 126.00,256.25" fill="none" stroke="#8a8a8a" stroke-width="0.7" stroke-linejoin="miter"/>
<polyline points="120.00,230.00 117.40,230.00 117.40,252.50 123.30,252.50" fill="none" stroke="#8a8a8a" stroke-width="0.7" stroke-linejoin="miter"/>
<polyline points="117.40,241.25 114.10,241.25 114.10,263.75 126.00,263.75" fill="none" stroke="#8a8a8a" stroke-width="0.7" stroke-linejoin="miter"/>
<polyline points="100.30,142.87 97.40,142.87 97.40,252.50 114.10,252.50" fill="none" stroke="#8a8a8a" stroke-width="0.7" stroke-linejoin="miter"/>
<line x1="95.00" y1="197.69" x2="97.40" y2="197.69" stroke="#8a8a8a" stroke-width="0.7"/>
<text x="147.60" y="281.60" font-size="8.8" fill="#222" textLength="30.40" lengthAdjust="spacingAndGlyphs"  stroke="#222" stroke-width="0.18">w HS-5</text>
<text x="214.00" y="281.60" font-size="8.8" fill="#222" textLength="39.50" lengthAdjust="spacingAndGlyphs"  stroke="#222" stroke-width="0.18">w/o HS-5</text>
<defs><linearGradient id="cb" x1="0" y1="0" x2="0" y2="1"><stop offset="0" stop-color="#e2261c"/><stop offset="0.5" stop-color="#f8f8f8"/><stop offset="1" stop-color="#0818e2"/></linearGradient></defs>
<rect x="316.80" y="180.20" width="7.70" height="87.10" fill="url(#cb)" />
<line x1="324.50" y1="181.20" x2="326.30" y2="181.20" stroke="#444" stroke-width="0.6"/>
<text x="329.00" y="183.70" font-size="7.0" fill="#222"  stroke="#222" stroke-width="0.18">1.0</text>
<line x1="324.50" y1="189.75" x2="326.30" y2="189.75" stroke="#444" stroke-width="0.6"/>
<text x="329.00" y="192.25" font-size="7.0" fill="#222"  stroke="#222" stroke-width="0.18">0.8</text>
<line x1="324.50" y1="198.30" x2="326.30" y2="198.30" stroke="#444" stroke-width="0.6"/>
<text x="329.00" y="200.80" font-size="7.0" fill="#222"  stroke="#222" stroke-width="0.18">0.6</text>
<line x1="324.50" y1="206.85" x2="326.30" y2="206.85" stroke="#444" stroke-width="0.6"/>
<text x="329.00" y="209.35" font-size="7.0" fill="#222"  stroke="#222" stroke-width="0.18">0.4</text>
<line x1="324.50" y1="215.40" x2="326.30" y2="215.40" stroke="#444" stroke-width="0.6"/>
<text x="329.00" y="217.90" font-size="7.0" fill="#222"  stroke="#222" stroke-width="0.18">0.2</text>
<line x1="324.50" y1="223.95" x2="326.30" y2="223.95" stroke="#444" stroke-width="0.6"/>
<text x="329.00" y="226.45" font-size="7.0" fill="#222"  stroke="#222" stroke-width="0.18">0.0</text>
<line x1="324.50" y1="232.50" x2="326.30" y2="232.50" stroke="#444" stroke-width="0.6"/>
<text x="326.50" y="235.00" font-size="7.0" fill="#222"  stroke="#222" stroke-width="0.18">-0.2</text>
<line x1="324.50" y1="241.05" x2="326.30" y2="241.05" stroke="#444" stroke-width="0.6"/>
<text x="326.50" y="243.55" font-size="7.0" fill="#222"  stroke="#222" stroke-width="0.18">-0.4</text>
<line x1="324.50" y1="249.60" x2="326.30" y2="249.60" stroke="#444" stroke-width="0.6"/>
<text x="326.50" y="252.10" font-size="7.0" fill="#222"  stroke="#222" stroke-width="0.18">-0.6</text>
<line x1="324.50" y1="258.15" x2="326.30" y2="258.15" stroke="#444" stroke-width="0.6"/>
<text x="326.50" y="260.65" font-size="7.0" fill="#222"  stroke="#222" stroke-width="0.18">-0.8</text>
<line x1="324.50" y1="266.70" x2="326.30" y2="266.70" stroke="#444" stroke-width="0.6"/>
<text x="326.50" y="269.20" font-size="7.0" fill="#222"  stroke="#222" stroke-width="0.18">-1.0</text>
<text x="432.30" y="10.40" font-size="9.8" fill="#111" textLength="53.90" lengthAdjust="spacingAndGlyphs"  stroke="#111" stroke-width="0.18">TCGA cohort</text>
<polyline points="388.80,22.00 388.80,24.60 392.20,29.40 397.00,36.20 397.00,46.70 399.40,48.20 400.40,50.60 400.40,57.30 402.30,60.20 402.30,64.80 407.30,64.80 408.10,68.70 409.20,72.70 411.50,75.00 412.70,79.60 415.00,80.20 417.30,80.80 419.00,82.50 420.80,86.50 423.10,90.60 425.40,94.00 427.70,96.90 428.80,98.80 445.40,98.80 445.40,103.10 490.00,103.10" fill="none" stroke="#1f5b94" stroke-width="1.4" stroke-linejoin="miter"/>
<polyline points="388.80,22.00 389.30,28.50 394.10,39.00 394.60,43.80 395.60,51.50 397.50,54.40 398.50,61.20 399.40,65.90 400.00,67.50 401.80,70.80 402.30,76.20 404.60,79.60 406.90,83.10 409.80,86.50 412.10,90.00 415.00,93.50 417.30,95.80 418.50,98.10 420.80,101.50 421.90,108.50 445.40,108.50 446.20,113.10 446.90,116.90 454.60,116.90 455.40,120.00 456.90,122.30 457.70,128.50 504.80,128.50" fill="none" stroke="#c2203c" stroke-width="1.4" stroke-linejoin="miter"/>
<line x1="435.80" y1="97.00" x2="435.80" y2="99.00" stroke="#1f5b94" stroke-width="0.8"/>
<line x1="438.10" y1="97.00" x2="438.10" y2="99.00" stroke="#1f5b94" stroke-width="0.8"/>
<line x1="439.80" y1="97.00" x2="439.80" y2="99.00" stroke="#1f5b94" stroke-width="0.8"/>
<line x1="451.50" y1="101.30" x2="451.50" y2="103.30" stroke="#1f5b94" stroke-width="0.8"/>
<line x1="458.50" y1="101.30" x2="458.50" y2="103.30" stroke="#1f5b94" stroke-width="0.8"/>
<line x1="462.30" y1="101.30" x2="462.30" y2="103.30" stroke="#1f5b94" stroke-width="0.8"/>
<line x1="473.80" y1="101.30" x2="473.80" y2="103.30" stroke="#1f5b94" stroke-width="0.8"/>
<line x1="478.50" y1="101.30" x2="478.50" y2="103.30" stroke="#1f5b94" stroke-width="0.8"/>
<line x1="490.00" y1="101.30" x2="490.00" y2="103.30" stroke="#1f5b94" stroke-width="0.8"/>
<line x1="424.20" y1="106.70" x2="424.20" y2="108.70" stroke="#c2203c" stroke-width="0.8"/>
<line x1="430.60" y1="106.70" x2="430.60" y2="108.70" stroke="#c2203c" stroke-width="0.8"/>
<line x1="434.60" y1="106.70" x2="434.60" y2="108.70" stroke="#c2203c" stroke-width="0.8"/>
<line x1="436.90" y1="106.70" x2="436.90" y2="108.70" stroke="#c2203c" stroke-width="0.8"/>
<line x1="449.80" y1="115.10" x2="449.80" y2="117.10" stroke="#c2203c" stroke-width="0.8"/>
<line x1="452.50" y1="115.10" x2="452.50" y2="117.10" stroke="#c2203c" stroke-width="0.8"/>
<line x1="480.80" y1="126.70" x2="480.80" y2="128.70" stroke="#c2203c" stroke-width="0.8"/>
<line x1="504.60" y1="126.70" x2="504.60" y2="128.70" stroke="#c2203c" stroke-width="0.8"/>
<line x1="388.70" y1="16.00" x2="388.70" y2="143.00" stroke="#111" stroke-width="1.2"/>
<line x1="388.70" y1="143.00" x2="511.50" y2="143.00" stroke="#111" stroke-width="1.2"/>
<line x1="385.90" y1="143.00" x2="388.70" y2="143.00" stroke="#111" stroke-width="0.8"/>
<line x1="387.10" y1="130.82" x2="388.70" y2="130.82" stroke="#111" stroke-width="0.8"/>
<line x1="387.10" y1="118.64" x2="388.70" y2="118.64" stroke="#111" stroke-width="0.8"/>
<line x1="387.10" y1="106.46" x2="388.70" y2="106.46" stroke="#111" stroke-width="0.8"/>
<line x1="387.10" y1="94.28" x2="388.70" y2="94.28" stroke="#111" stroke-width="0.8"/>
<line x1="385.90" y1="82.10" x2="388.70" y2="82.10" stroke="#111" stroke-width="0.8"/>
<line x1="387.10" y1="69.92" x2="388.70" y2="69.92" stroke="#111" stroke-width="0.8"/>
<line x1="387.10" y1="57.74" x2="388.70" y2="57.74" stroke="#111" stroke-width="0.8"/>
<line x1="387.10" y1="45.56" x2="388.70" y2="45.56" stroke="#111" stroke-width="0.8"/>
<line x1="387.10" y1="33.38" x2="388.70" y2="33.38" stroke="#111" stroke-width="0.8"/>
<line x1="385.90" y1="21.20" x2="388.70" y2="21.20" stroke="#111" stroke-width="0.8"/>
<text x="382.00" y="23.90" font-size="7.4" text-anchor="end" fill="#222"  stroke="#222" stroke-width="0.18">100</text>
<text x="382.00" y="84.80" font-size="7.4" text-anchor="end" fill="#222"  stroke="#222" stroke-width="0.18">50</text>
<text x="382.00" y="145.70" font-size="7.4" text-anchor="end" fill="#222"  stroke="#222" stroke-width="0.18">0</text>
<line x1="388.70" y1="143.00" x2="388.70" y2="145.80" stroke="#111" stroke-width="0.8"/>
<line x1="396.84" y1="143.00" x2="396.84" y2="144.60" stroke="#111" stroke-width="0.8"/>
<line x1="404.98" y1="143.00" x2="404.98" y2="144.60" stroke="#111" stroke-width="0.8"/>
<line x1="413.12" y1="143.00" x2="413.12" y2="144.60" stroke="#111" stroke-width="0.8"/>
<line x1="421.26" y1="143.00" x2="421.26" y2="144.60" stroke="#111" stroke-width="0.8"/>
<line x1="429.40" y1="143.00" x2="429.40" y2="145.80" stroke="#111" stroke-width="0.8"/>
<line x1="437.54" y1="143.00" x2="437.54" y2="144.60" stroke="#111" stroke-width="0.8"/>
<line x1="445.68" y1="143.00" x2="445.68" y2="144.60" stroke="#111" stroke-width="0.8"/>
<line x1="453.82" y1="143.00" x2="453.82" y2="144.60" stroke="#111" stroke-width="0.8"/>
<line x1="461.96" y1="143.00" x2="461.96" y2="144.60" stroke="#111" stroke-width="0.8"/>
<line x1="470.10" y1="143.00" x2="470.10" y2="145.80" stroke="#111" stroke-width="0.8"/>
<line x1="478.24" y1="143.00" x2="478.24" y2="144.60" stroke="#111" stroke-width="0.8"/>
<line x1="486.38" y1="143.00" x2="486.38" y2="144.60" stroke="#111" stroke-width="0.8"/>
<line x1="494.52" y1="143.00" x2="494.52" y2="144.60" stroke="#111" stroke-width="0.8"/>
<line x1="502.66" y1="143.00" x2="502.66" y2="144.60" stroke="#111" stroke-width="0.8"/>
<line x1="510.80" y1="143.00" x2="510.80" y2="145.80" stroke="#111" stroke-width="0.8"/>
<text x="388.70" y="155.00" font-size="7.4" text-anchor="middle" fill="#222"  stroke="#222" stroke-width="0.18">0</text>
<text x="429.40" y="155.00" font-size="7.4" text-anchor="middle" fill="#222"  stroke="#222" stroke-width="0.18">1000</text>
<text x="470.10" y="155.00" font-size="7.4" text-anchor="middle" fill="#222"  stroke="#222" stroke-width="0.18">2000</text>
<text x="510.80" y="155.00" font-size="7.4" text-anchor="middle" fill="#222"  stroke="#222" stroke-width="0.18">3000</text>
<text x="450.60" y="166.00" font-size="8.6" text-anchor="middle" fill="#222" textLength="38.50" lengthAdjust="spacingAndGlyphs"  stroke="#222" stroke-width="0.18">Days elapsed</text>
<text x="363.30" y="82.10" font-size="8.6" text-anchor="middle" fill="#222" textLength="62.00" lengthAdjust="spacingAndGlyphs" transform="rotate(-90 363.30 82.10)"  stroke="#222" stroke-width="0.18">Probability of survival</text>
<line x1="440.40" y1="32.90" x2="454.20" y2="32.90" stroke="#1f5b94" stroke-width="1.2"/>
<line x1="447.30" y1="31.40" x2="447.30" y2="33.40" stroke="#1f5b94" stroke-width="0.8"/>
<line x1="440.40" y1="42.60" x2="454.20" y2="42.60" stroke="#c2203c" stroke-width="1.2"/>
<line x1="447.30" y1="41.10" x2="447.30" y2="43.10" stroke="#c2203c" stroke-width="0.8"/>
<text x="456.50" y="35.60" font-size="7.2" fill="#222"  stroke="#222" stroke-width="0.18">S100A8<tspan font-size="4.6" dy="-2.6">lo</tspan></text>
<text x="456.50" y="45.30" font-size="7.2" fill="#222"  stroke="#222" stroke-width="0.18">S100A8<tspan font-size="4.6" dy="-2.6">hi</tspan></text>
<text x="443.80" y="70.30" font-size="9.6" fill="#111" textLength="28.60" lengthAdjust="spacingAndGlyphs"  stroke="#111" stroke-width="0.18">P value</text>
<line x1="478.50" y1="61.00" x2="478.50" y2="72.50" stroke="#111" stroke-width="1.1"/>
<text x="485.20" y="70.30" font-size="9.6" fill="#111" textLength="29.60" lengthAdjust="spacingAndGlyphs"  stroke="#111" stroke-width="0.18">0.0677</text>
<polyline points="388.80,184.50 388.80,185.70 389.30,189.50 390.80,191.00 393.70,192.40 396.10,195.30 397.00,198.20 397.50,203.00 399.40,206.80 400.40,209.70 400.90,217.40 402.80,219.80 404.20,222.20 404.20,225.60 407.60,225.60 408.40,231.20 411.00,237.00 412.70,239.30 415.00,243.30 419.00,243.30 420.80,246.20 421.30,250.80 424.80,255.50 427.10,258.90 429.40,262.40 445.50,262.40 446.90,266.60 490.00,266.60" fill="none" stroke="#1f5b94" stroke-width="1.4" stroke-linejoin="miter"/>
<polyline points="388.80,184.50 389.30,192.90 390.80,195.30 392.70,200.10 394.60,203.40 395.60,210.70 397.50,216.40 399.40,222.20 400.40,230.10 401.20,233.50 403.50,240.50 406.30,243.90 408.70,248.50 411.50,252.00 413.80,256.00 416.70,258.30 418.50,261.20 420.80,264.70 422.50,267.60 423.10,271.00 445.50,271.00 446.70,275.10 447.50,278.90 455.40,278.90 456.20,282.80 457.50,284.30 458.50,291.20 505.40,291.20" fill="none" stroke="#c2203c" stroke-width="1.4" stroke-linejoin="miter"/>
<line x1="434.00" y1="260.60" x2="434.00" y2="262.60" stroke="#1f5b94" stroke-width="0.8"/>
<line x1="437.00" y1="260.60" x2="437.00" y2="262.60" stroke="#1f5b94" stroke-width="0.8"/>
<line x1="440.00" y1="260.60" x2="440.00" y2="262.60" stroke="#1f5b94" stroke-width="0.8"/>
<line x1="452.00" y1="264.80" x2="452.00" y2="266.80" stroke="#1f5b94" stroke-width="0.8"/>
<line x1="458.00" y1="264.80" x2="458.00" y2="266.80" stroke="#1f5b94" stroke-width="0.8"/>
<line x1="462.00" y1="264.80" x2="462.00" y2="266.80" stroke="#1f5b94" stroke-width="0.8"/>
<line x1="474.00" y1="264.80" x2="474.00" y2="266.80" stroke="#1f5b94" stroke-width="0.8"/>
<line x1="479.00" y1="264.80" x2="479.00" y2="266.80" stroke="#1f5b94" stroke-width="0.8"/>
<line x1="490.00" y1="264.80" x2="490.00" y2="266.80" stroke="#1f5b94" stroke-width="0.8"/>
<line x1="425.00" y1="269.20" x2="425.00" y2="271.20" stroke="#c2203c" stroke-width="0.8"/>
<line x1="432.00" y1="269.20" x2="432.00" y2="271.20" stroke="#c2203c" stroke-width="0.8"/>
<line x1="436.00" y1="269.20" x2="436.00" y2="271.20" stroke="#c2203c" stroke-width="0.8"/>
<line x1="438.00" y1="269.20" x2="438.00" y2="271.20" stroke="#c2203c" stroke-width="0.8"/>
<line x1="451.00" y1="277.10" x2="451.00" y2="279.10" stroke="#c2203c" stroke-width="0.8"/>
<line x1="454.00" y1="277.10" x2="454.00" y2="279.10" stroke="#c2203c" stroke-width="0.8"/>
<line x1="482.00" y1="289.40" x2="482.00" y2="291.40" stroke="#c2203c" stroke-width="0.8"/>
<line x1="505.20" y1="289.40" x2="505.20" y2="291.40" stroke="#c2203c" stroke-width="0.8"/>
<line x1="388.70" y1="178.30" x2="388.70" y2="305.30" stroke="#111" stroke-width="1.2"/>
<line x1="388.70" y1="305.30" x2="511.50" y2="305.30" stroke="#111" stroke-width="1.2"/>
<line x1="385.90" y1="305.30" x2="388.70" y2="305.30" stroke="#111" stroke-width="0.8"/>
<line x1="387.10" y1="293.12" x2="388.70" y2="293.12" stroke="#111" stroke-width="0.8"/>
<line x1="387.10" y1="280.94" x2="388.70" y2="280.94" stroke="#111" stroke-width="0.8"/>
<line x1="387.10" y1="268.76" x2="388.70" y2="268.76" stroke="#111" stroke-width="0.8"/>
<line x1="387.10" y1="256.58" x2="388.70" y2="256.58" stroke="#111" stroke-width="0.8"/>
<line x1="385.90" y1="244.40" x2="388.70" y2="244.40" stroke="#111" stroke-width="0.8"/>
<line x1="387.10" y1="232.22" x2="388.70" y2="232.22" stroke="#111" stroke-width="0.8"/>
<line x1="387.10" y1="220.04" x2="388.70" y2="220.04" stroke="#111" stroke-width="0.8"/>
<line x1="387.10" y1="207.86" x2="388.70" y2="207.86" stroke="#111" stroke-width="0.8"/>
<line x1="387.10" y1="195.68" x2="388.70" y2="195.68" stroke="#111" stroke-width="0.8"/>
<line x1="385.90" y1="183.50" x2="388.70" y2="183.50" stroke="#111" stroke-width="0.8"/>
<text x="382.00" y="186.20" font-size="7.4" text-anchor="end" fill="#222"  stroke="#222" stroke-width="0.18">100</text>
<text x="382.00" y="247.10" font-size="7.4" text-anchor="end" fill="#222"  stroke="#222" stroke-width="0.18">50</text>
<text x="382.00" y="308.00" font-size="7.4" text-anchor="end" fill="#222"  stroke="#222" stroke-width="0.18">0</text>
<line x1="388.70" y1="305.30" x2="388.70" y2="308.10" stroke="#111" stroke-width="0.8"/>
<line x1="396.84" y1="305.30" x2="396.84" y2="306.90" stroke="#111" stroke-width="0.8"/>
<line x1="404.98" y1="305.30" x2="404.98" y2="306.90" stroke="#111" stroke-width="0.8"/>
<line x1="413.12" y1="305.30" x2="413.12" y2="306.90" stroke="#111" stroke-width="0.8"/>
<line x1="421.26" y1="305.30" x2="421.26" y2="306.90" stroke="#111" stroke-width="0.8"/>
<line x1="429.40" y1="305.30" x2="429.40" y2="308.10" stroke="#111" stroke-width="0.8"/>
<line x1="437.54" y1="305.30" x2="437.54" y2="306.90" stroke="#111" stroke-width="0.8"/>
<line x1="445.68" y1="305.30" x2="445.68" y2="306.90" stroke="#111" stroke-width="0.8"/>
<line x1="453.82" y1="305.30" x2="453.82" y2="306.90" stroke="#111" stroke-width="0.8"/>
<line x1="461.96" y1="305.30" x2="461.96" y2="306.90" stroke="#111" stroke-width="0.8"/>
<line x1="470.10" y1="305.30" x2="470.10" y2="308.10" stroke="#111" stroke-width="0.8"/>
<line x1="478.24" y1="305.30" x2="478.24" y2="306.90" stroke="#111" stroke-width="0.8"/>
<line x1="486.38" y1="305.30" x2="486.38" y2="306.90" stroke="#111" stroke-width="0.8"/>
<line x1="494.52" y1="305.30" x2="494.52" y2="306.90" stroke="#111" stroke-width="0.8"/>
<line x1="502.66" y1="305.30" x2="502.66" y2="306.90" stroke="#111" stroke-width="0.8"/>
<line x1="510.80" y1="305.30" x2="510.80" y2="308.10" stroke="#111" stroke-width="0.8"/>
<text x="388.70" y="317.30" font-size="7.4" text-anchor="middle" fill="#222"  stroke="#222" stroke-width="0.18">0</text>
<text x="429.40" y="317.30" font-size="7.4" text-anchor="middle" fill="#222"  stroke="#222" stroke-width="0.18">1000</text>
<text x="470.10" y="317.30" font-size="7.4" text-anchor="middle" fill="#222"  stroke="#222" stroke-width="0.18">2000</text>
<text x="510.80" y="317.30" font-size="7.4" text-anchor="middle" fill="#222"  stroke="#222" stroke-width="0.18">3000</text>
<text x="450.60" y="328.30" font-size="8.6" text-anchor="middle" fill="#222" textLength="38.50" lengthAdjust="spacingAndGlyphs"  stroke="#222" stroke-width="0.18">Days elapsed</text>
<text x="363.30" y="244.40" font-size="8.6" text-anchor="middle" fill="#222" textLength="62.00" lengthAdjust="spacingAndGlyphs" transform="rotate(-90 363.30 244.40)"  stroke="#222" stroke-width="0.18">Probability of survival</text>
<line x1="440.40" y1="195.20" x2="454.20" y2="195.20" stroke="#1f5b94" stroke-width="1.2"/>
<line x1="447.30" y1="193.70" x2="447.30" y2="195.70" stroke="#1f5b94" stroke-width="0.8"/>
<line x1="440.40" y1="204.90" x2="454.20" y2="204.90" stroke="#c2203c" stroke-width="1.2"/>
<line x1="447.30" y1="203.40" x2="447.30" y2="205.40" stroke="#c2203c" stroke-width="0.8"/>
<text x="456.50" y="197.90" font-size="7.2" fill="#222"  stroke="#222" stroke-width="0.18">S100A9<tspan font-size="4.6" dy="-2.6">lo</tspan></text>
<text x="456.50" y="207.60" font-size="7.2" fill="#222"  stroke="#222" stroke-width="0.18">S100A9<tspan font-size="4.6" dy="-2.6">hi</tspan></text>
<text x="443.80" y="232.60" font-size="9.6" fill="#111" textLength="28.60" lengthAdjust="spacingAndGlyphs"  stroke="#111" stroke-width="0.18">P value</text>
<line x1="478.50" y1="223.30" x2="478.50" y2="234.80" stroke="#111" stroke-width="1.1"/>
<text x="485.20" y="232.60" font-size="9.6" fill="#111" textLength="29.60" lengthAdjust="spacingAndGlyphs"  stroke="#111" stroke-width="0.18">0.0458</text>
<line x1="40.80" y1="367.50" x2="40.80" y2="491.30" stroke="#111" stroke-width="1.3"/>
<line x1="40.80" y1="491.30" x2="113.70" y2="491.30" stroke="#111" stroke-width="1.3"/>
<line x1="37.60" y1="491.30" x2="40.80" y2="491.30" stroke="#111" stroke-width="0.9"/>
<text x="34.40" y="494.30" font-size="7.9" text-anchor="end" fill="#222"  stroke="#222" stroke-width="0.18">0</text>
<line x1="37.60" y1="461.30" x2="40.80" y2="461.30" stroke="#111" stroke-width="0.9"/>
<text x="34.40" y="464.30" font-size="7.9" text-anchor="end" fill="#222"  stroke="#222" stroke-width="0.18">5</text>
<line x1="37.60" y1="431.30" x2="40.80" y2="431.30" stroke="#111" stroke-width="0.9"/>
<text x="34.40" y="434.30" font-size="7.9" text-anchor="end" fill="#222"  stroke="#222" stroke-width="0.18">10</text>
<line x1="37.60" y1="401.30" x2="40.80" y2="401.30" stroke="#111" stroke-width="0.9"/>
<text x="34.40" y="404.30" font-size="7.9" text-anchor="end" fill="#222"  stroke="#222" stroke-width="0.18">15</text>
<line x1="37.60" y1="371.30" x2="40.80" y2="371.30" stroke="#111" stroke-width="0.9"/>
<text x="34.40" y="374.30" font-size="7.9" text-anchor="end" fill="#222"  stroke="#222" stroke-width="0.18">20</text>
<rect x="47.50" y="455.30" width="12.00" height="36.00" fill="#c8102e" />
<line x1="53.50" y1="455.30" x2="53.50" y2="453.50" stroke="#2a2a2a" stroke-width="1.2"/>
<line x1="50.50" y1="453.50" x2="56.50" y2="453.50" stroke="#2a2a2a" stroke-width="1.2"/>
<line x1="53.50" y1="491.30" x2="53.50" y2="493.90" stroke="#111" stroke-width="0.9"/>
<text x="53.50" y="453.20" font-size="8.0" text-anchor="middle" fill="#111"  stroke="#111" stroke-width="0.18">***</text>
<rect x="63.00" y="448.70" width="12.00" height="42.60" fill="#e0889a" />
<line x1="69.00" y1="448.70" x2="69.00" y2="439.10" stroke="#2a2a2a" stroke-width="1.2"/>
<line x1="66.00" y1="439.10" x2="72.00" y2="439.10" stroke="#2a2a2a" stroke-width="1.2"/>
<line x1="69.00" y1="491.30" x2="69.00" y2="493.90" stroke="#111" stroke-width="0.9"/>
<text x="69.00" y="439.40" font-size="8.0" text-anchor="middle" fill="#111"  stroke="#111" stroke-width="0.18">***</text>
<rect x="78.30" y="416.90" width="12.20" height="74.40" fill="#1b4f86" />
<line x1="84.40" y1="416.90" x2="84.40" y2="410.00" stroke="#2a2a2a" stroke-width="1.2"/>
<line x1="81.40" y1="410.00" x2="87.40" y2="410.00" stroke="#2a2a2a" stroke-width="1.2"/>
<line x1="84.40" y1="491.30" x2="84.40" y2="493.90" stroke="#111" stroke-width="0.9"/>
<text x="84.40" y="410.40" font-size="8.0" text-anchor="middle" fill="#111"  stroke="#111" stroke-width="0.18">***</text>
<rect x="94.00" y="409.40" width="12.30" height="81.90" fill="#84a7cb" />
<line x1="100.15" y1="409.40" x2="100.15" y2="403.52" stroke="#2a2a2a" stroke-width="1.2"/>
<line x1="97.15" y1="403.52" x2="103.15" y2="403.52" stroke="#2a2a2a" stroke-width="1.2"/>
<line x1="100.15" y1="491.30" x2="100.15" y2="493.90" stroke="#111" stroke-width="0.9"/>
<text x="100.15" y="402.90" font-size="8.0" text-anchor="middle" fill="#111"  stroke="#111" stroke-width="0.18">***</text>
<line x1="166.30" y1="367.50" x2="166.30" y2="491.30" stroke="#111" stroke-width="1.3"/>
<line x1="166.30" y1="491.30" x2="240.00" y2="491.30" stroke="#111" stroke-width="1.3"/>
<line x1="163.10" y1="491.30" x2="166.30" y2="491.30" stroke="#111" stroke-width="0.9"/>
<text x="160.20" y="494.30" font-size="7.9" text-anchor="end" fill="#222"  stroke="#222" stroke-width="0.18">0</text>
<line x1="163.10" y1="461.30" x2="166.30" y2="461.30" stroke="#111" stroke-width="0.9"/>
<text x="160.20" y="464.30" font-size="7.9" text-anchor="end" fill="#222"  stroke="#222" stroke-width="0.18">10</text>
<line x1="163.10" y1="431.30" x2="166.30" y2="431.30" stroke="#111" stroke-width="0.9"/>
<text x="160.20" y="434.30" font-size="7.9" text-anchor="end" fill="#222"  stroke="#222" stroke-width="0.18">20</text>
<line x1="163.10" y1="401.30" x2="166.30" y2="401.30" stroke="#111" stroke-width="0.9"/>
<text x="160.20" y="404.30" font-size="7.9" text-anchor="end" fill="#222"  stroke="#222" stroke-width="0.18">30</text>
<line x1="163.10" y1="371.30" x2="166.30" y2="371.30" stroke="#111" stroke-width="0.9"/>
<text x="160.20" y="374.30" font-size="7.9" text-anchor="end" fill="#222"  stroke="#222" stroke-width="0.18">40</text>
<rect x="173.00" y="466.10" width="12.00" height="25.20" fill="#c8102e" />
<line x1="179.00" y1="466.10" x2="179.00" y2="464.45" stroke="#2a2a2a" stroke-width="1.2"/>
<line x1="176.00" y1="464.45" x2="182.00" y2="464.45" stroke="#2a2a2a" stroke-width="1.2"/>
<line x1="179.00" y1="491.30" x2="179.00" y2="493.90" stroke="#111" stroke-width="0.9"/>
<text x="179.00" y="465.00" font-size="8.0" text-anchor="middle" fill="#111"  stroke="#111" stroke-width="0.18">***</text>
<rect x="188.30" y="464.60" width="12.20" height="26.70" fill="#e0889a" />
<line x1="194.40" y1="464.60" x2="194.40" y2="458.15" stroke="#2a2a2a" stroke-width="1.2"/>
<line x1="191.40" y1="458.15" x2="197.40" y2="458.15" stroke="#2a2a2a" stroke-width="1.2"/>
<line x1="194.40" y1="491.30" x2="194.40" y2="493.90" stroke="#111" stroke-width="0.9"/>
<text x="194.40" y="457.90" font-size="8.0" text-anchor="middle" fill="#111"  stroke="#111" stroke-width="0.18">***</text>
<rect x="204.30" y="412.40" width="12.00" height="78.90" fill="#1b4f86" />
<line x1="210.30" y1="412.40" x2="210.30" y2="409.70" stroke="#2a2a2a" stroke-width="1.2"/>
<line x1="207.30" y1="409.70" x2="213.30" y2="409.70" stroke="#2a2a2a" stroke-width="1.2"/>
<line x1="210.30" y1="491.30" x2="210.30" y2="493.90" stroke="#111" stroke-width="0.9"/>
<text x="210.30" y="410.40" font-size="8.0" text-anchor="middle" fill="#111"  stroke="#111" stroke-width="0.18">***</text>
<rect x="220.50" y="412.70" width="12.50" height="78.60" fill="#84a7cb" />
<line x1="226.75" y1="412.70" x2="226.75" y2="404.60" stroke="#2a2a2a" stroke-width="1.2"/>
<line x1="223.75" y1="404.60" x2="229.75" y2="404.60" stroke="#2a2a2a" stroke-width="1.2"/>
<line x1="226.75" y1="491.30" x2="226.75" y2="493.90" stroke="#111" stroke-width="0.9"/>
<text x="226.75" y="404.90" font-size="8.0" text-anchor="middle" fill="#111"  stroke="#111" stroke-width="0.18">***</text>
<text x="9.40" y="431.50" font-size="9.0" text-anchor="middle" fill="#222" textLength="55.90" lengthAdjust="spacingAndGlyphs" transform="rotate(-90 9.40 431.50)" stroke="#222" stroke-width="0.3"><tspan font-style="italic">S100A8</tspan> mRNA fold</text>
<text x="19.20" y="431.50" font-size="9.0" text-anchor="middle" fill="#222" textLength="58.50" lengthAdjust="spacingAndGlyphs" transform="rotate(-90 19.20 431.50)" stroke="#222" stroke-width="0.3">change to untreated</text>
<text x="133.40" y="431.50" font-size="9.0" text-anchor="middle" fill="#222" textLength="55.90" lengthAdjust="spacingAndGlyphs" transform="rotate(-90 133.40 431.50)" stroke="#222" stroke-width="0.3"><tspan font-style="italic">S100A9</tspan> mRNA fold</text>
<text x="143.20" y="431.50" font-size="9.0" text-anchor="middle" fill="#222" textLength="58.50" lengthAdjust="spacingAndGlyphs" transform="rotate(-90 143.20 431.50)" stroke="#222" stroke-width="0.3">change to untreated</text>
<text x="55.10" y="500.60" font-size="8.0" text-anchor="end" fill="#222" transform="rotate(-45 55.10 500.60)"  stroke="#222" stroke-width="0.18">Contact</text>
<text x="86.00" y="500.60" font-size="8.0" text-anchor="end" fill="#222" transform="rotate(-45 86.00 500.60)"  stroke="#222" stroke-width="0.18">Contact</text>
<text x="180.60" y="500.60" font-size="8.0" text-anchor="end" fill="#222" transform="rotate(-45 180.60 500.60)"  stroke="#222" stroke-width="0.18">Contact</text>
<text x="211.90" y="500.60" font-size="8.0" text-anchor="end" fill="#222" transform="rotate(-45 211.90 500.60)"  stroke="#222" stroke-width="0.18">Contact</text>
<text x="70.60" y="500.60" font-size="8.0" text-anchor="end" fill="#222" transform="rotate(-45 70.60 500.60)"  stroke="#222" stroke-width="0.18">CM</text>
<text x="101.70" y="500.60" font-size="8.0" text-anchor="end" fill="#222" transform="rotate(-45 101.70 500.60)"  stroke="#222" stroke-width="0.18">CM</text>
<text x="196.00" y="500.60" font-size="8.0" text-anchor="end" fill="#222" transform="rotate(-45 196.00 500.60)"  stroke="#222" stroke-width="0.18">CM</text>
<text x="228.30" y="500.60" font-size="8.0" text-anchor="end" fill="#222" transform="rotate(-45 228.30 500.60)"  stroke="#222" stroke-width="0.18">CM</text>
<line x1="304.40" y1="367.50" x2="304.40" y2="492.00" stroke="#111" stroke-width="1.3"/>
<line x1="304.40" y1="492.00" x2="382.70" y2="492.00" stroke="#111" stroke-width="1.3"/>
<line x1="301.90" y1="492.00" x2="304.40" y2="492.00" stroke="#111" stroke-width="0.8"/>
<text x="298.80" y="494.10" font-size="7.4" text-anchor="end" fill="#222"  stroke="#222" stroke-width="0.18">0</text>
<line x1="301.90" y1="452.00" x2="304.40" y2="452.00" stroke="#111" stroke-width="0.8"/>
<text x="298.80" y="454.10" font-size="7.4" text-anchor="end" fill="#222"  stroke="#222" stroke-width="0.18">5</text>
<line x1="301.90" y1="412.00" x2="304.40" y2="412.00" stroke="#111" stroke-width="0.8"/>
<text x="298.80" y="414.10" font-size="7.4" text-anchor="end" fill="#222"  stroke="#222" stroke-width="0.18">10</text>
<line x1="301.90" y1="372.00" x2="304.40" y2="372.00" stroke="#111" stroke-width="0.8"/>
<text x="298.80" y="374.10" font-size="7.4" text-anchor="end" fill="#222"  stroke="#222" stroke-width="0.18">15</text>
<rect x="311.30" y="446.40" width="12.00" height="45.60" fill="#c8102e" />
<line x1="317.30" y1="446.40" x2="317.30" y2="444.00" stroke="#2a2a2a" stroke-width="1.2"/>
<line x1="314.30" y1="444.00" x2="320.30" y2="444.00" stroke="#2a2a2a" stroke-width="1.2"/>
<line x1="317.30" y1="492.00" x2="317.30" y2="494.60" stroke="#111" stroke-width="0.9"/>
<rect x="328.00" y="416.00" width="12.00" height="76.00" fill="#e0889a" />
<line x1="334.00" y1="416.00" x2="334.00" y2="409.60" stroke="#2a2a2a" stroke-width="1.2"/>
<line x1="331.00" y1="409.60" x2="337.00" y2="409.60" stroke="#2a2a2a" stroke-width="1.2"/>
<line x1="334.00" y1="492.00" x2="334.00" y2="494.60" stroke="#111" stroke-width="0.9"/>
<rect x="344.50" y="484.00" width="12.50" height="8.00" fill="#1b4f86" />
<line x1="350.75" y1="484.00" x2="350.75" y2="482.80" stroke="#2a2a2a" stroke-width="1.2"/>
<line x1="347.75" y1="482.80" x2="353.75" y2="482.80" stroke="#2a2a2a" stroke-width="1.2"/>
<line x1="350.75" y1="492.00" x2="350.75" y2="494.60" stroke="#111" stroke-width="0.9"/>
<rect x="361.30" y="468.00" width="12.00" height="24.00" fill="#84a7cb" />
<line x1="367.30" y1="468.00" x2="367.30" y2="459.60" stroke="#2a2a2a" stroke-width="1.2"/>
<line x1="364.30" y1="459.60" x2="370.30" y2="459.60" stroke="#2a2a2a" stroke-width="1.2"/>
<line x1="367.30" y1="492.00" x2="367.30" y2="494.60" stroke="#111" stroke-width="0.9"/>
<polyline points="317.30,438.20 317.30,400.50 334.00,400.50 334.00,405.00" fill="none" stroke="#111" stroke-width="0.9" stroke-linejoin="miter"/>
<text x="325.60" y="400.90" font-size="8.0" text-anchor="middle" fill="#111"  stroke="#111" stroke-width="0.18">***</text>
<polyline points="350.70,480.00 350.70,451.30 367.30,451.30 367.30,457.00" fill="none" stroke="#111" stroke-width="0.9" stroke-linejoin="miter"/>
<text x="359.00" y="451.60" font-size="8.0" text-anchor="middle" fill="#111"  stroke="#111" stroke-width="0.18">*</text>
<rect x="339.80" y="369.40" width="5.50" height="5.00" fill="#c8102e" />
<rect x="339.80" y="381.30" width="5.50" height="5.00" fill="#1b4f86" />
<text x="350.00" y="374.40" font-size="7.6" fill="#222" textLength="30.80" lengthAdjust="spacingAndGlyphs"  stroke="#222" stroke-width="0.18">OCI-AML</text>
<text x="350.00" y="386.30" font-size="7.6" fill="#222" textLength="26.30" lengthAdjust="spacingAndGlyphs"  stroke="#222" stroke-width="0.18">Molm13</text>
<text x="282.60" y="429.70" font-size="9.0" text-anchor="middle" fill="#222" textLength="80.30" lengthAdjust="spacingAndGlyphs" transform="rotate(-90 282.60 429.70)" stroke="#222" stroke-width="0.3">S100A8/A9<tspan font-size="5.6" dy="-3.0">hi</tspan><tspan dy="3.0"> frequency [%]</tspan></text>
<text x="321.50" y="500.30" font-size="8.1" text-anchor="end" fill="#222" transform="rotate(-45 321.50 500.30)"  stroke="#222" stroke-width="0.18">Untreated</text>
<text x="354.90" y="500.30" font-size="8.1" text-anchor="end" fill="#222" transform="rotate(-45 354.90 500.30)"  stroke="#222" stroke-width="0.18">Untreated</text>
<text x="339.00" y="500.30" font-size="8.1" text-anchor="end" fill="#222" transform="rotate(-45 339.00 500.30)"  stroke="#222" stroke-width="0.18">AML-MSC CM</text>
<text x="372.30" y="500.30" font-size="8.1" text-anchor="end" fill="#222" transform="rotate(-45 372.30 500.30)"  stroke="#222" stroke-width="0.18">AML-MSC CM</text>
<text x="458.80" y="362.00" font-size="9.0" fill="#111" textLength="55.00" lengthAdjust="spacingAndGlyphs"  stroke="#111" stroke-width="0.18">TCGA cohort</text>
<line x1="443.00" y1="366.30" x2="443.00" y2="491.30" stroke="#111" stroke-width="1.3"/>
<line x1="443.00" y1="491.30" x2="517.50" y2="491.30" stroke="#111" stroke-width="1.3"/>
<line x1="440.50" y1="491.30" x2="443.00" y2="491.30" stroke="#111" stroke-width="0.8"/>
<text x="437.40" y="493.20" font-size="7.6" text-anchor="end" fill="#222"  stroke="#222" stroke-width="0.18">0</text>
<line x1="443.00" y1="491.30" x2="443.00" y2="493.80" stroke="#111" stroke-width="0.8"/>
<text x="443.00" y="503.40" font-size="7.4" text-anchor="middle" fill="#222"  stroke="#222" stroke-width="0.18">0</text>
<line x1="440.50" y1="461.48" x2="443.00" y2="461.48" stroke="#111" stroke-width="0.8"/>
<text x="437.40" y="463.38" font-size="7.6" text-anchor="end" fill="#222"  stroke="#222" stroke-width="0.18">5</text>
<line x1="461.15" y1="491.30" x2="461.15" y2="493.80" stroke="#111" stroke-width="0.8"/>
<text x="461.15" y="503.40" font-size="7.4" text-anchor="middle" fill="#222"  stroke="#222" stroke-width="0.18">5</text>
<line x1="440.50" y1="431.65" x2="443.00" y2="431.65" stroke="#111" stroke-width="0.8"/>
<text x="437.40" y="433.55" font-size="7.6" text-anchor="end" fill="#222"  stroke="#222" stroke-width="0.18">10</text>
<line x1="479.30" y1="491.30" x2="479.30" y2="493.80" stroke="#111" stroke-width="0.8"/>
<text x="479.30" y="503.40" font-size="7.4" text-anchor="middle" fill="#222"  stroke="#222" stroke-width="0.18">10</text>
<line x1="440.50" y1="401.83" x2="443.00" y2="401.83" stroke="#111" stroke-width="0.8"/>
<text x="437.40" y="403.73" font-size="7.6" text-anchor="end" fill="#222"  stroke="#222" stroke-width="0.18">15</text>
<line x1="497.45" y1="491.30" x2="497.45" y2="493.80" stroke="#111" stroke-width="0.8"/>
<text x="497.45" y="503.40" font-size="7.4" text-anchor="middle" fill="#222"  stroke="#222" stroke-width="0.18">15</text>
<line x1="440.50" y1="372.00" x2="443.00" y2="372.00" stroke="#111" stroke-width="0.8"/>
<text x="437.40" y="373.90" font-size="7.6" text-anchor="end" fill="#222"  stroke="#222" stroke-width="0.18">20</text>
<line x1="515.60" y1="491.30" x2="515.60" y2="493.80" stroke="#111" stroke-width="0.8"/>
<text x="515.60" y="503.40" font-size="7.4" text-anchor="middle" fill="#222"  stroke="#222" stroke-width="0.18">20</text>
<text x="446.30" y="377.60" font-size="6.8" fill="#222" textLength="29.50" lengthAdjust="spacingAndGlyphs"  stroke="#222" stroke-width="0.18">r=0.9784</text>
<text x="446.30" y="387.60" font-size="6.8" fill="#222" textLength="32.00" lengthAdjust="spacingAndGlyphs"  stroke="#222" stroke-width="0.18">p&lt;0.0001</text>
<text x="478.90" y="516.40" font-size="9.0" text-anchor="middle" fill="#222" textLength="40.40" lengthAdjust="spacingAndGlyphs" stroke="#222" stroke-width="0.3">S100A8 [log<tspan font-size="5.8" dy="1.8">2</tspan><tspan dy="-1.8">]</tspan></text>
<text x="421.80" y="429.50" font-size="9.0" text-anchor="middle" fill="#222" textLength="40.40" lengthAdjust="spacingAndGlyphs" transform="rotate(-90 421.80 429.50)" stroke="#222" stroke-width="0.3">S100A9 [log<tspan font-size="5.8" dy="1.8">2</tspan><tspan dy="-1.8">]</tspan></text>
<line x1="448.80" y1="477.40" x2="451.20" y2="474.20" stroke="#e04040" stroke-width="0.9"/>
<circle cx="470.03" cy="437.61" r="1.85" fill="#1b4f86"/>
<circle cx="456.09" cy="459.13" r="1.85" fill="#1b4f86"/>
<circle cx="478.24" cy="422.12" r="1.85" fill="#1b4f86"/>
<circle cx="477.69" cy="424.42" r="1.85" fill="#1b4f86"/>
<circle cx="452.13" cy="462.29" r="1.85" fill="#1b4f86"/>
<circle cx="456.42" cy="456.63" r="1.85" fill="#1b4f86"/>
<circle cx="474.01" cy="429.98" r="1.85" fill="#1b4f86"/>
<circle cx="463.50" cy="444.38" r="1.85" fill="#1b4f86"/>
<circle cx="484.15" cy="417.68" r="1.85" fill="#1b4f86"/>
<circle cx="471.92" cy="431.36" r="1.85" fill="#1b4f86"/>
<circle cx="499.00" cy="398.09" r="1.85" fill="#1b4f86"/>
<circle cx="468.02" cy="439.94" r="1.85" fill="#1b4f86"/>
<circle cx="460.23" cy="451.84" r="1.85" fill="#1b4f86"/>
<circle cx="490.70" cy="405.70" r="1.85" fill="#1b4f86"/>
<circle cx="460.42" cy="447.39" r="1.85" fill="#1b4f86"/>
<circle cx="470.47" cy="432.86" r="1.85" fill="#1b4f86"/>
<circle cx="479.50" cy="421.85" r="1.85" fill="#1b4f86"/>
<circle cx="463.21" cy="446.21" r="1.85" fill="#1b4f86"/>
<circle cx="483.32" cy="412.44" r="1.85" fill="#1b4f86"/>
<circle cx="481.17" cy="419.49" r="1.85" fill="#1b4f86"/>
<circle cx="474.27" cy="427.35" r="1.85" fill="#1b4f86"/>
<circle cx="487.78" cy="413.77" r="1.85" fill="#1b4f86"/>
<circle cx="463.88" cy="442.24" r="1.85" fill="#1b4f86"/>
<circle cx="491.10" cy="401.06" r="1.85" fill="#1b4f86"/>
<circle cx="485.41" cy="409.56" r="1.85" fill="#1b4f86"/>
<circle cx="460.61" cy="455.56" r="1.85" fill="#1b4f86"/>
<circle cx="473.45" cy="430.24" r="1.85" fill="#1b4f86"/>
<circle cx="475.78" cy="424.91" r="1.85" fill="#1b4f86"/>
<circle cx="451.86" cy="461.80" r="1.85" fill="#1b4f86"/>
<circle cx="478.03" cy="418.55" r="1.85" fill="#1b4f86"/>
<circle cx="491.02" cy="400.99" r="1.85" fill="#1b4f86"/>
<circle cx="483.01" cy="419.91" r="1.85" fill="#1b4f86"/>
<circle cx="477.80" cy="417.77" r="1.85" fill="#1b4f86"/>
<circle cx="495.47" cy="398.29" r="1.85" fill="#1b4f86"/>
<circle cx="475.66" cy="426.25" r="1.85" fill="#1b4f86"/>
<circle cx="484.86" cy="411.62" r="1.85" fill="#1b4f86"/>
<circle cx="485.87" cy="417.07" r="1.85" fill="#1b4f86"/>
<circle cx="467.03" cy="439.83" r="1.85" fill="#1b4f86"/>
<circle cx="471.81" cy="432.39" r="1.85" fill="#1b4f86"/>
<circle cx="475.11" cy="427.08" r="1.85" fill="#1b4f86"/>
<circle cx="461.24" cy="449.50" r="1.85" fill="#1b4f86"/>
<circle cx="488.30" cy="408.16" r="1.85" fill="#1b4f86"/>
<circle cx="458.73" cy="452.81" r="1.85" fill="#1b4f86"/>
<circle cx="493.50" cy="402.96" r="1.85" fill="#1b4f86"/>
<circle cx="454.53" cy="456.86" r="1.85" fill="#1b4f86"/>
<circle cx="492.97" cy="401.62" r="1.85" fill="#1b4f86"/>
<circle cx="490.74" cy="405.47" r="1.85" fill="#1b4f86"/>
<circle cx="472.52" cy="429.90" r="1.85" fill="#1b4f86"/>
<circle cx="472.96" cy="435.91" r="1.85" fill="#1b4f86"/>
<circle cx="458.34" cy="449.74" r="1.85" fill="#1b4f86"/>
<circle cx="461.52" cy="448.67" r="1.85" fill="#1b4f86"/>
<circle cx="477.33" cy="426.32" r="1.85" fill="#1b4f86"/>
<circle cx="480.77" cy="418.90" r="1.85" fill="#1b4f86"/>
<circle cx="473.57" cy="430.24" r="1.85" fill="#1b4f86"/>
<circle cx="468.42" cy="431.83" r="1.85" fill="#1b4f86"/>
<circle cx="483.38" cy="411.60" r="1.85" fill="#1b4f86"/>
<circle cx="476.18" cy="422.66" r="1.85" fill="#1b4f86"/>
<circle cx="452.84" cy="459.91" r="1.85" fill="#1b4f86"/>
<circle cx="493.55" cy="400.69" r="1.85" fill="#1b4f86"/>
<circle cx="485.90" cy="404.05" r="1.85" fill="#1b4f86"/>
<circle cx="471.78" cy="431.70" r="1.85" fill="#1b4f86"/>
<circle cx="483.03" cy="416.33" r="1.85" fill="#1b4f86"/>
<circle cx="454.86" cy="459.91" r="1.85" fill="#1b4f86"/>
<circle cx="460.93" cy="450.01" r="1.85" fill="#1b4f86"/>
<circle cx="469.83" cy="435.77" r="1.85" fill="#1b4f86"/>
<circle cx="460.02" cy="450.81" r="1.85" fill="#1b4f86"/>
<circle cx="456.85" cy="455.37" r="1.85" fill="#1b4f86"/>
<circle cx="492.26" cy="401.90" r="1.85" fill="#1b4f86"/>
<circle cx="482.46" cy="417.76" r="1.85" fill="#1b4f86"/>
<circle cx="470.89" cy="435.71" r="1.85" fill="#1b4f86"/>
<circle cx="472.63" cy="435.14" r="1.85" fill="#1b4f86"/>
<circle cx="498.71" cy="396.55" r="1.85" fill="#1b4f86"/>
<circle cx="474.99" cy="426.59" r="1.85" fill="#1b4f86"/>
<circle cx="457.07" cy="455.42" r="1.85" fill="#1b4f86"/>
<circle cx="469.72" cy="435.43" r="1.85" fill="#1b4f86"/>
<circle cx="462.47" cy="451.14" r="1.85" fill="#1b4f86"/>
<circle cx="452.10" cy="465.03" r="1.85" fill="#1b4f86"/>
<circle cx="459.38" cy="450.98" r="1.85" fill="#1b4f86"/>
<circle cx="480.52" cy="422.96" r="1.85" fill="#1b4f86"/>
<circle cx="496.18" cy="396.04" r="1.85" fill="#1b4f86"/>
<circle cx="491.14" cy="402.06" r="1.85" fill="#1b4f86"/>
<circle cx="470.17" cy="433.24" r="1.85" fill="#1b4f86"/>
<circle cx="461.09" cy="449.53" r="1.85" fill="#1b4f86"/>
<circle cx="486.43" cy="406.00" r="1.85" fill="#1b4f86"/>
<circle cx="469.68" cy="436.76" r="1.85" fill="#1b4f86"/>
<circle cx="499.17" cy="397.51" r="1.85" fill="#1b4f86"/>
<circle cx="492.20" cy="403.65" r="1.85" fill="#1b4f86"/>
<circle cx="484.16" cy="407.84" r="1.85" fill="#1b4f86"/>
<circle cx="463.17" cy="443.76" r="1.85" fill="#1b4f86"/>
<circle cx="451.61" cy="463.53" r="1.85" fill="#1b4f86"/>
<circle cx="451.48" cy="463.65" r="1.85" fill="#1b4f86"/>
<circle cx="486.11" cy="413.23" r="1.85" fill="#1b4f86"/>
<circle cx="491.21" cy="394.51" r="1.85" fill="#1b4f86"/>
<circle cx="497.49" cy="396.15" r="1.85" fill="#1b4f86"/>
<circle cx="494.16" cy="396.59" r="1.85" fill="#1b4f86"/>
<circle cx="464.75" cy="444.79" r="1.85" fill="#1b4f86"/>
<circle cx="462.98" cy="447.16" r="1.85" fill="#1b4f86"/>
<circle cx="495.18" cy="401.70" r="1.85" fill="#1b4f86"/>
<circle cx="488.36" cy="402.12" r="1.85" fill="#1b4f86"/>
<circle cx="489.44" cy="406.25" r="1.85" fill="#1b4f86"/>
<circle cx="454.83" cy="456.44" r="1.85" fill="#1b4f86"/>
<circle cx="485.55" cy="405.14" r="1.85" fill="#1b4f86"/>
<circle cx="486.27" cy="408.35" r="1.85" fill="#1b4f86"/>
<circle cx="488.88" cy="406.77" r="1.85" fill="#1b4f86"/>
<circle cx="470.44" cy="436.97" r="1.85" fill="#1b4f86"/>
<circle cx="469.25" cy="429.68" r="1.85" fill="#1b4f86"/>
<circle cx="474.55" cy="432.64" r="1.85" fill="#1b4f86"/>
<circle cx="460.55" cy="448.80" r="1.85" fill="#1b4f86"/>
<circle cx="459.79" cy="453.81" r="1.85" fill="#1b4f86"/>
<circle cx="492.22" cy="407.52" r="1.85" fill="#1b4f86"/>
<circle cx="460.99" cy="452.10" r="1.85" fill="#1b4f86"/>
<circle cx="479.89" cy="412.21" r="1.85" fill="#1b4f86"/>
<circle cx="469.69" cy="434.60" r="1.85" fill="#1b4f86"/>
<circle cx="450.17" cy="465.66" r="1.85" fill="#1b4f86"/>
<circle cx="494.30" cy="395.40" r="1.85" fill="#1b4f86"/>
<circle cx="492.50" cy="397.22" r="1.85" fill="#1b4f86"/>
<circle cx="475.78" cy="430.24" r="1.85" fill="#1b4f86"/>
<circle cx="461.91" cy="444.75" r="1.85" fill="#1b4f86"/>
<circle cx="465.25" cy="442.28" r="1.85" fill="#1b4f86"/>
<circle cx="481.68" cy="419.75" r="1.85" fill="#1b4f86"/>
<circle cx="465.34" cy="441.49" r="1.85" fill="#1b4f86"/>
<circle cx="493.73" cy="399.95" r="1.85" fill="#1b4f86"/>
<circle cx="468.92" cy="433.74" r="1.85" fill="#1b4f86"/>
<circle cx="493.66" cy="400.37" r="1.85" fill="#1b4f86"/>
<circle cx="474.83" cy="430.91" r="1.85" fill="#1b4f86"/>
<circle cx="477.58" cy="422.06" r="1.85" fill="#1b4f86"/>
<circle cx="479.48" cy="424.10" r="1.85" fill="#1b4f86"/>
<circle cx="461.95" cy="448.12" r="1.85" fill="#1b4f86"/>
<circle cx="449.20" cy="467.73" r="1.85" fill="#1b4f86"/>
<circle cx="475.10" cy="425.94" r="1.85" fill="#1b4f86"/>
<circle cx="484.98" cy="409.65" r="1.85" fill="#1b4f86"/>
<circle cx="477.39" cy="423.19" r="1.85" fill="#1b4f86"/>
<circle cx="479.52" cy="421.15" r="1.85" fill="#1b4f86"/>
<circle cx="478.94" cy="420.32" r="1.85" fill="#1b4f86"/>
<circle cx="464.98" cy="442.47" r="1.85" fill="#1b4f86"/>
<circle cx="479.63" cy="425.68" r="1.85" fill="#1b4f86"/>
<circle cx="479.83" cy="420.78" r="1.85" fill="#1b4f86"/>
<circle cx="471.70" cy="426.61" r="1.85" fill="#1b4f86"/>
<circle cx="480.02" cy="416.29" r="1.85" fill="#1b4f86"/>
<circle cx="484.91" cy="412.42" r="1.85" fill="#1b4f86"/>
<circle cx="473.49" cy="426.92" r="1.85" fill="#1b4f86"/>
<circle cx="494.06" cy="397.61" r="1.85" fill="#1b4f86"/>
<circle cx="487.80" cy="413.77" r="1.85" fill="#1b4f86"/>
<circle cx="464.01" cy="440.59" r="1.85" fill="#1b4f86"/>
<circle cx="482.04" cy="422.45" r="1.85" fill="#1b4f86"/>
<circle cx="458.54" cy="451.65" r="1.85" fill="#1b4f86"/>
<circle cx="457.90" cy="453.29" r="1.85" fill="#1b4f86"/>
<circle cx="465.05" cy="443.41" r="1.85" fill="#1b4f86"/>
<circle cx="454.34" cy="457.87" r="1.85" fill="#1b4f86"/>
<circle cx="490.27" cy="398.72" r="1.85" fill="#1b4f86"/>
<circle cx="459.89" cy="450.32" r="1.85" fill="#1b4f86"/>
<circle cx="458.13" cy="450.62" r="1.85" fill="#1b4f86"/>
<circle cx="493.43" cy="401.98" r="1.85" fill="#1b4f86"/>
<circle cx="494.63" cy="397.10" r="1.85" fill="#1b4f86"/>
<circle cx="468.75" cy="429.11" r="1.85" fill="#1b4f86"/>
<circle cx="490.78" cy="404.39" r="1.85" fill="#1b4f86"/>
<circle cx="459.51" cy="449.17" r="1.85" fill="#1b4f86"/>
<circle cx="470.36" cy="436.22" r="1.85" fill="#1b4f86"/>
<circle cx="461.82" cy="446.50" r="1.85" fill="#1b4f86"/>
<circle cx="451.98" cy="465.70" r="1.85" fill="#1b4f86"/>
<circle cx="479.07" cy="420.99" r="1.85" fill="#1b4f86"/>
<circle cx="469.48" cy="436.44" r="1.85" fill="#1b4f86"/>
<circle cx="481.68" cy="416.36" r="1.85" fill="#1b4f86"/>
<circle cx="496.01" cy="395.40" r="1.85" fill="#1b4f86"/>
<circle cx="489.44" cy="407.21" r="1.85" fill="#1b4f86"/>
<circle cx="466.08" cy="441.29" r="1.85" fill="#1b4f86"/>
<circle cx="452.71" cy="462.29" r="1.85" fill="#1b4f86"/>
<circle cx="457.98" cy="452.28" r="1.85" fill="#1b4f86"/>
<circle cx="475.59" cy="431.25" r="1.85" fill="#1b4f86"/>
<circle cx="464.73" cy="441.17" r="1.85" fill="#1b4f86"/>
<circle cx="461.03" cy="451.71" r="1.85" fill="#1b4f86"/>
<circle cx="484.33" cy="411.36" r="1.85" fill="#1b4f86"/>
<circle cx="457.50" cy="457.52" r="1.85" fill="#1b4f86"/>
<circle cx="474.42" cy="430.18" r="1.85" fill="#1b4f86"/>
<circle cx="456.21" cy="459.21" r="1.85" fill="#1b4f86"/>
<circle cx="488.37" cy="405.37" r="1.85" fill="#1b4f86"/>
<circle cx="456.03" cy="457.39" r="1.85" fill="#1b4f86"/>
<circle cx="491.06" cy="402.06" r="1.85" fill="#1b4f86"/>
<circle cx="474.13" cy="427.20" r="1.85" fill="#1b4f86"/>
<circle cx="495.73" cy="399.92" r="1.85" fill="#1b4f86"/>
<circle cx="467.22" cy="441.80" r="1.85" fill="#1b4f86"/>
<circle cx="465.75" cy="444.12" r="1.85" fill="#1b4f86"/>
<circle cx="457.65" cy="454.79" r="1.85" fill="#1b4f86"/>
<circle cx="463.13" cy="446.65" r="1.85" fill="#1b4f86"/>
<circle cx="467.80" cy="437.38" r="1.85" fill="#1b4f86"/>
<circle cx="469.20" cy="440.68" r="1.85" fill="#1b4f86"/>
<circle cx="477.56" cy="425.03" r="1.85" fill="#1b4f86"/>
<circle cx="451.35" cy="465.57" r="1.85" fill="#1b4f86"/>
<circle cx="467.18" cy="443.71" r="1.85" fill="#1b4f86"/>
<circle cx="479.41" cy="421.49" r="1.85" fill="#1b4f86"/>
<circle cx="459.79" cy="445.91" r="1.85" fill="#1b4f86"/>
<circle cx="457.63" cy="455.22" r="1.85" fill="#1b4f86"/>
<circle cx="488.17" cy="403.79" r="1.85" fill="#1b4f86"/>
<circle cx="491.26" cy="404.53" r="1.85" fill="#1b4f86"/>
<circle cx="470.39" cy="430.71" r="1.85" fill="#1b4f86"/>
<circle cx="495.85" cy="395.51" r="1.85" fill="#1b4f86"/>
<circle cx="470.86" cy="436.18" r="1.85" fill="#1b4f86"/>
<circle cx="480.71" cy="414.64" r="1.85" fill="#1b4f86"/>
<circle cx="472.57" cy="430.99" r="1.85" fill="#1b4f86"/>
<circle cx="459.01" cy="452.93" r="1.85" fill="#1b4f86"/>
<circle cx="448.40" cy="468.30" r="1.85" fill="#1b4f86"/>
<circle cx="452.50" cy="471.20" r="1.85" fill="#1b4f86"/>
<circle cx="454.00" cy="468.60" r="1.85" fill="#1b4f86"/>
<circle cx="457.00" cy="459.20" r="1.85" fill="#1b4f86"/>
<circle cx="466.50" cy="439.50" r="1.85" fill="#1b4f86"/>
<circle cx="473.50" cy="424.50" r="1.85" fill="#1b4f86"/>
<circle cx="479.00" cy="414.50" r="1.85" fill="#1b4f86"/>
<circle cx="485.00" cy="400.00" r="1.85" fill="#1b4f86"/>
<circle cx="491.50" cy="410.00" r="1.85" fill="#1b4f86"/>
<circle cx="496.50" cy="394.00" r="1.85" fill="#1b4f86"/>
<rect x="28.60" y="584.50" width="67.30" height="66.50" fill="#fff" stroke="#222" stroke-width="1.0"/>
<line x1="95.20" y1="584.50" x2="95.20" y2="615.50" stroke="#333" stroke-width="1.8"/>
<polyline points="63.40,584.50 63.40,615.20 95.90,615.20" fill="none" stroke="#666" stroke-width="0.9" stroke-linejoin="miter"/>
<path d="M71.5,604.5 L81.5,596.5" stroke="#ebeeea" stroke-width="1.4" stroke-linecap="round"/><path d="M45.20,634.10 C44.55,633.25 44.30,631.35 44.30,629.80 C44.30,628.25 44.83,626.20 45.20,624.80 C45.57,623.40 46.28,622.82 46.50,621.40 C46.72,619.98 46.22,617.85 46.50,616.30 C46.78,614.75 47.37,613.37 48.20,612.10 C49.03,610.83 50.38,609.68 51.50,608.70 C52.62,607.72 53.77,606.77 54.90,606.20 C56.03,605.63 57.17,605.23 58.30,605.30 C59.43,605.37 60.85,606.32 61.70,606.60 C62.55,606.88 62.42,607.22 63.40,607.00 C64.38,606.78 66.27,605.80 67.60,605.30 C68.93,604.80 70.70,604.00 71.40,604.00 C72.10,604.00 72.15,604.52 71.80,605.30 C71.45,606.08 70.42,607.28 69.30,608.70 C68.18,610.12 66.52,612.12 65.10,613.80 C63.68,615.48 61.93,617.12 60.80,618.80 C59.67,620.48 59.13,622.20 58.30,623.90 C57.47,625.60 56.78,627.58 55.80,629.00 C54.82,630.42 53.67,631.42 52.40,632.40 C51.13,633.38 49.40,634.62 48.20,634.90 C47.00,635.18 45.85,634.95 45.20,634.10 Z" fill="#1238dc"/><ellipse cx="52.00" cy="624.00" rx="4.00" ry="7.50" fill="#1a58ec" transform="rotate(15 52.00 624.00)"/><ellipse cx="54.90" cy="614.80" rx="7.00" ry="5.40" fill="#1e7cf0" transform="rotate(-38 54.90 614.80)"/><ellipse cx="54.90" cy="614.80" rx="5.20" ry="4.00" fill="#2ad0e8" transform="rotate(-38 54.90 614.80)"/><ellipse cx="54.90" cy="614.80" rx="3.90" ry="2.90" fill="#5ccc58" transform="rotate(-38 54.90 614.80)"/><ellipse cx="54.90" cy="614.80" rx="2.60" ry="1.90" fill="#ece428" transform="rotate(-38 54.90 614.80)"/><ellipse cx="54.90" cy="614.80" rx="1.30" ry="1.00" fill="#e02a1e" transform="rotate(-38 54.90 614.80)"/>
<text x="63.90" y="625.40" font-size="8.6" fill="#c8384f" textLength="22.20" lengthAdjust="spacingAndGlyphs"  stroke="#c8384f" stroke-width="0.18">2.17%</text>
<line x1="26.80" y1="591.20" x2="28.60" y2="591.20" stroke="#222" stroke-width="0.8"/>
<line x1="26.80" y1="607.50" x2="28.60" y2="607.50" stroke="#222" stroke-width="0.8"/>
<line x1="26.80" y1="625.00" x2="28.60" y2="625.00" stroke="#222" stroke-width="0.8"/>
<line x1="26.80" y1="637.00" x2="28.60" y2="637.00" stroke="#222" stroke-width="0.8"/>
<line x1="26.80" y1="647.80" x2="28.60" y2="647.80" stroke="#222" stroke-width="0.8"/>
<text x="23.60" y="593.80" font-size="7.8" text-anchor="end" fill="#222" stroke="#222" stroke-width="0.15">10<tspan font-size="5.2" dy="-3.0">5</tspan></text>
<text x="23.60" y="610.10" font-size="7.8" text-anchor="end" fill="#222" stroke="#222" stroke-width="0.15">10<tspan font-size="5.2" dy="-3.0">4</tspan></text>
<text x="23.60" y="627.60" font-size="7.8" text-anchor="end" fill="#222" stroke="#222" stroke-width="0.15">10<tspan font-size="5.2" dy="-3.0">3</tspan></text>
<text x="20.00" y="639.80" font-size="7.8" text-anchor="end" fill="#222" stroke="#222" stroke-width="0.15">0</text>
<text x="23.60" y="650.60" font-size="7.8" text-anchor="end" fill="#222" stroke="#222" stroke-width="0.15">−10<tspan font-size="5.2" dy="-3.0">3</tspan></text>
<line x1="29.40" y1="651.00" x2="29.40" y2="652.80" stroke="#222" stroke-width="0.8"/>
<text x="29.40" y="660.80" font-size="7.8" text-anchor="middle" fill="#222" stroke="#222" stroke-width="0.15">−10<tspan font-size="5.2" dy="-3.0">3</tspan></text>
<line x1="44.40" y1="651.00" x2="44.40" y2="652.80" stroke="#222" stroke-width="0.8"/>
<text x="44.40" y="660.80" font-size="7.8" text-anchor="middle" fill="#222" stroke="#222" stroke-width="0.15">0</text>
<line x1="53.60" y1="651.00" x2="53.60" y2="652.80" stroke="#222" stroke-width="0.8"/>
<text x="53.60" y="660.80" font-size="7.8" text-anchor="middle" fill="#222" stroke="#222" stroke-width="0.15">10<tspan font-size="5.2" dy="-3.0">3</tspan></text>
<line x1="72.90" y1="651.00" x2="72.90" y2="652.80" stroke="#222" stroke-width="0.8"/>
<text x="72.90" y="660.80" font-size="7.8" text-anchor="middle" fill="#222" stroke="#222" stroke-width="0.15">10<tspan font-size="5.2" dy="-3.0">4</tspan></text>
<line x1="87.90" y1="651.00" x2="87.90" y2="652.80" stroke="#222" stroke-width="0.8"/>
<text x="87.90" y="660.80" font-size="7.8" text-anchor="middle" fill="#222" stroke="#222" stroke-width="0.15">10<tspan font-size="5.2" dy="-3.0">5</tspan></text>
<text x="76.60" y="580.70" font-size="9.8" text-anchor="middle" fill="#111"  stroke="#111" stroke-width="0.18">S100A8/A9<tspan font-size="6.0" dy="-3.6">hi</tspan></text>
<text x="61.60" y="563.80" font-size="9.2" text-anchor="middle" fill="#222" textLength="39.30" lengthAdjust="spacingAndGlyphs"  stroke="#222" stroke-width="0.18">Untreated</text>
<rect x="134.60" y="584.50" width="67.30" height="66.50" fill="#fff" stroke="#222" stroke-width="1.0"/>
<line x1="201.20" y1="584.50" x2="201.20" y2="615.50" stroke="#333" stroke-width="1.8"/>
<polyline points="169.40,584.50 169.40,615.20 201.90,615.20" fill="none" stroke="#666" stroke-width="0.9" stroke-linejoin="miter"/>
<path d="M156.30,629.50 C155.95,628.65 155.70,627.03 155.50,625.20 C155.30,623.37 155.17,620.18 155.10,618.50 C155.03,616.82 154.68,616.23 155.10,615.10 C155.52,613.97 156.48,612.77 157.60,611.70 C158.72,610.63 159.97,609.48 161.80,608.70 C163.63,607.92 166.33,608.20 168.60,607.00 C170.87,605.80 173.15,603.33 175.40,601.50 C177.65,599.67 180.13,597.62 182.10,596.00 C184.07,594.38 186.00,592.53 187.20,591.80 C188.40,591.07 188.87,591.25 189.30,591.60 C189.73,591.95 190.43,592.67 189.80,593.90 C189.17,595.13 187.33,597.02 185.50,599.00 C183.67,600.98 180.92,603.55 178.80,605.80 C176.68,608.05 174.63,610.25 172.80,612.50 C170.97,614.75 169.35,617.18 167.80,619.30 C166.25,621.42 164.77,623.50 163.50,625.20 C162.23,626.90 161.18,628.65 160.20,629.50 C159.22,630.35 158.25,630.30 157.60,630.30 C156.95,630.30 156.65,630.35 156.30,629.50 Z" fill="#1238dc"/><path d="M160,616 L187.5,593.2" stroke="#1e7cf0" stroke-width="4.6" stroke-linecap="round"/><path d="M162,614.5 L184,596.5" stroke="#2ad0e8" stroke-width="1.8" stroke-linecap="round"/><ellipse cx="163.10" cy="615.50" rx="5.60" ry="4.00" fill="#1e7cf0" transform="rotate(-38 163.10 615.50)"/><ellipse cx="163.10" cy="615.50" rx="4.60" ry="3.10" fill="#2ad0e8" transform="rotate(-38 163.10 615.50)"/><ellipse cx="163.10" cy="615.50" rx="3.60" ry="2.30" fill="#5ccc58" transform="rotate(-38 163.10 615.50)"/><ellipse cx="163.10" cy="615.50" rx="2.40" ry="1.50" fill="#ece428" transform="rotate(-38 163.10 615.50)"/><ellipse cx="163.10" cy="615.50" rx="1.30" ry="0.80" fill="#e02a1e" transform="rotate(-38 163.10 615.50)"/>
<text x="171.20" y="625.40" font-size="8.6" fill="#c8384f" textLength="21.80" lengthAdjust="spacingAndGlyphs"  stroke="#c8384f" stroke-width="0.18">22.4%</text>
<line x1="132.80" y1="591.20" x2="134.60" y2="591.20" stroke="#222" stroke-width="0.8"/>
<line x1="132.80" y1="607.50" x2="134.60" y2="607.50" stroke="#222" stroke-width="0.8"/>
<line x1="132.80" y1="625.00" x2="134.60" y2="625.00" stroke="#222" stroke-width="0.8"/>
<line x1="132.80" y1="637.00" x2="134.60" y2="637.00" stroke="#222" stroke-width="0.8"/>
<line x1="132.80" y1="647.80" x2="134.60" y2="647.80" stroke="#222" stroke-width="0.8"/>
<text x="129.60" y="593.80" font-size="7.8" text-anchor="end" fill="#222" stroke="#222" stroke-width="0.15">10<tspan font-size="5.2" dy="-3.0">5</tspan></text>
<text x="129.60" y="610.10" font-size="7.8" text-anchor="end" fill="#222" stroke="#222" stroke-width="0.15">10<tspan font-size="5.2" dy="-3.0">4</tspan></text>
<text x="129.60" y="627.60" font-size="7.8" text-anchor="end" fill="#222" stroke="#222" stroke-width="0.15">10<tspan font-size="5.2" dy="-3.0">3</tspan></text>
<text x="126.00" y="639.80" font-size="7.8" text-anchor="end" fill="#222" stroke="#222" stroke-width="0.15">0</text>
<text x="129.60" y="650.60" font-size="7.8" text-anchor="end" fill="#222" stroke="#222" stroke-width="0.15">−10<tspan font-size="5.2" dy="-3.0">3</tspan></text>
<line x1="135.40" y1="651.00" x2="135.40" y2="652.80" stroke="#222" stroke-width="0.8"/>
<text x="135.40" y="660.80" font-size="7.8" text-anchor="middle" fill="#222" stroke="#222" stroke-width="0.15">−10<tspan font-size="5.2" dy="-3.0">3</tspan></text>
<line x1="150.40" y1="651.00" x2="150.40" y2="652.80" stroke="#222" stroke-width="0.8"/>
<text x="150.40" y="660.80" font-size="7.8" text-anchor="middle" fill="#222" stroke="#222" stroke-width="0.15">0</text>
<line x1="159.60" y1="651.00" x2="159.60" y2="652.80" stroke="#222" stroke-width="0.8"/>
<text x="159.60" y="660.80" font-size="7.8" text-anchor="middle" fill="#222" stroke="#222" stroke-width="0.15">10<tspan font-size="5.2" dy="-3.0">3</tspan></text>
<line x1="178.90" y1="651.00" x2="178.90" y2="652.80" stroke="#222" stroke-width="0.8"/>
<text x="178.90" y="660.80" font-size="7.8" text-anchor="middle" fill="#222" stroke="#222" stroke-width="0.15">10<tspan font-size="5.2" dy="-3.0">4</tspan></text>
<line x1="193.90" y1="651.00" x2="193.90" y2="652.80" stroke="#222" stroke-width="0.8"/>
<text x="193.90" y="660.80" font-size="7.8" text-anchor="middle" fill="#222" stroke="#222" stroke-width="0.15">10<tspan font-size="5.2" dy="-3.0">5</tspan></text>
<text x="182.60" y="580.70" font-size="9.8" text-anchor="middle" fill="#111"  stroke="#111" stroke-width="0.18">S100A8/A9<tspan font-size="6.0" dy="-3.6">hi</tspan></text>
<text x="165.90" y="563.80" font-size="9.2" text-anchor="middle" fill="#222" textLength="39.30" lengthAdjust="spacingAndGlyphs"  stroke="#222" stroke-width="0.18">HS-5 CM</text>
<polyline points="5.50,640.00 5.50,672.60 79.50,672.60" fill="none" stroke="#111" stroke-width="1.3" stroke-linejoin="miter"/>
<path d="M2.5,641 L5.5,634.5 L8.5,641 Z" fill="#111"/>
<path d="M78.5,669.5 L84.6,672.6 L78.5,675.7 Z" fill="#111"/>
<text x="87.40" y="675.00" font-size="8.2" fill="#111" textLength="21.30" lengthAdjust="spacingAndGlyphs" stroke="#111" stroke-width="0.3">S100A8</text>
<text x="7.40" y="620.50" font-size="8.2" text-anchor="middle" fill="#111" textLength="21.00" lengthAdjust="spacingAndGlyphs" transform="rotate(-90 7.40 620.50)" stroke="#111" stroke-width="0.3">S100A9</text>
<line x1="271.80" y1="564.60" x2="271.80" y2="651.10" stroke="#111" stroke-width="1.3"/>
<line x1="271.80" y1="651.10" x2="331.00" y2="651.10" stroke="#111" stroke-width="1.3"/>
<line x1="269.00" y1="651.10" x2="271.80" y2="651.10" stroke="#111" stroke-width="0.9"/>
<text x="267.40" y="653.90" font-size="7.9" text-anchor="end" fill="#222"  stroke="#222" stroke-width="0.18">0</text>
<line x1="269.00" y1="630.00" x2="271.80" y2="630.00" stroke="#111" stroke-width="0.9"/>
<text x="267.40" y="632.80" font-size="7.9" text-anchor="end" fill="#222"  stroke="#222" stroke-width="0.18">5</text>
<line x1="269.00" y1="608.90" x2="271.80" y2="608.90" stroke="#111" stroke-width="0.9"/>
<text x="267.40" y="611.70" font-size="7.9" text-anchor="end" fill="#222"  stroke="#222" stroke-width="0.18">10</text>
<line x1="269.00" y1="587.80" x2="271.80" y2="587.80" stroke="#111" stroke-width="0.9"/>
<text x="267.40" y="590.60" font-size="7.9" text-anchor="end" fill="#222"  stroke="#222" stroke-width="0.18">15</text>
<line x1="269.00" y1="566.70" x2="271.80" y2="566.70" stroke="#111" stroke-width="0.9"/>
<text x="267.40" y="569.50" font-size="7.9" text-anchor="end" fill="#222"  stroke="#222" stroke-width="0.18">20</text>
<rect x="278.20" y="620.72" width="8.60" height="30.38" fill="#c8102e" />
<line x1="282.50" y1="620.72" x2="282.50" y2="617.76" stroke="#2a2a2a" stroke-width="1.1"/>
<line x1="280.10" y1="617.76" x2="284.90" y2="617.76" stroke="#2a2a2a" stroke-width="1.1"/>
<line x1="282.50" y1="651.10" x2="282.50" y2="653.60" stroke="#111" stroke-width="0.9"/>
<rect x="291.10" y="581.05" width="9.00" height="70.05" fill="#e0889a" />
<line x1="295.60" y1="581.05" x2="295.60" y2="575.98" stroke="#2a2a2a" stroke-width="1.1"/>
<line x1="293.20" y1="575.98" x2="298.00" y2="575.98" stroke="#2a2a2a" stroke-width="1.1"/>
<line x1="295.60" y1="651.10" x2="295.60" y2="653.60" stroke="#111" stroke-width="0.9"/>
<rect x="304.40" y="645.61" width="8.70" height="5.49" fill="#1b4f86" />
<line x1="308.75" y1="645.61" x2="308.75" y2="644.56" stroke="#2a2a2a" stroke-width="1.1"/>
<line x1="306.35" y1="644.56" x2="311.15" y2="644.56" stroke="#2a2a2a" stroke-width="1.1"/>
<line x1="308.75" y1="651.10" x2="308.75" y2="653.60" stroke="#111" stroke-width="0.9"/>
<rect x="317.10" y="579.36" width="8.90" height="71.74" fill="#84a7cb" />
<line x1="321.55" y1="579.36" x2="321.55" y2="574.72" stroke="#2a2a2a" stroke-width="1.1"/>
<line x1="319.15" y1="574.72" x2="323.95" y2="574.72" stroke="#2a2a2a" stroke-width="1.1"/>
<line x1="321.55" y1="651.10" x2="321.55" y2="653.60" stroke="#111" stroke-width="0.9"/>
<polyline points="282.50,616.50 282.50,572.70 295.70,572.70 295.70,574.70" fill="none" stroke="#111" stroke-width="0.8" stroke-linejoin="miter"/>
<text x="289.10" y="572.60" font-size="8.0" text-anchor="middle" fill="#111"  stroke="#111" stroke-width="0.18">***</text>
<polyline points="308.70,643.00 308.70,571.00 321.60,571.00 321.60,573.80" fill="none" stroke="#111" stroke-width="0.8" stroke-linejoin="miter"/>
<text x="315.20" y="571.20" font-size="8.0" text-anchor="middle" fill="#111"  stroke="#111" stroke-width="0.18">***</text>
<rect x="336.80" y="622.60" width="5.40" height="5.00" fill="#c8102e" />
<rect x="336.80" y="635.80" width="5.40" height="5.00" fill="#1b4f86" />
<text x="345.40" y="627.90" font-size="7.6" fill="#222" textLength="31.70" lengthAdjust="spacingAndGlyphs"  stroke="#222" stroke-width="0.18">OCI-AML</text>
<text x="345.40" y="641.40" font-size="7.6" fill="#222" textLength="26.50" lengthAdjust="spacingAndGlyphs"  stroke="#222" stroke-width="0.18">Molm13</text>
<text x="253.20" y="607.50" font-size="9.0" text-anchor="middle" fill="#222" textLength="81.70" lengthAdjust="spacingAndGlyphs" transform="rotate(-90 253.20 607.50)" stroke="#222" stroke-width="0.3">S100A8/A9<tspan font-size="5.6" dy="-3.0">hi</tspan><tspan dy="3.0"> frequency [%]</tspan></text>
<text x="284.50" y="659.00" font-size="7.8" text-anchor="end" fill="#222" transform="rotate(-45 284.50 659.00)"  stroke="#222" stroke-width="0.18">Untreated</text>
<text x="310.70" y="659.00" font-size="7.8" text-anchor="end" fill="#222" transform="rotate(-45 310.70 659.00)"  stroke="#222" stroke-width="0.18">Untreated</text>
<text x="297.60" y="659.00" font-size="7.8" text-anchor="end" fill="#222" transform="rotate(-45 297.60 659.00)"  stroke="#222" stroke-width="0.18">CM</text>
<text x="323.50" y="659.00" font-size="7.8" text-anchor="end" fill="#222" transform="rotate(-45 323.50 659.00)"  stroke="#222" stroke-width="0.18">CM</text>
<text x="441.40" y="549.80" font-size="9.3" fill="#111" textLength="45.20" lengthAdjust="spacingAndGlyphs"  stroke="#111" stroke-width="0.18">AML blasts</text>
<line x1="442.60" y1="558.80" x2="442.60" y2="650.80" stroke="#111" stroke-width="1.3"/>
<line x1="442.60" y1="650.80" x2="480.00" y2="650.80" stroke="#111" stroke-width="1.3"/>
<line x1="439.80" y1="650.80" x2="442.60" y2="650.80" stroke="#111" stroke-width="0.9"/>
<text x="439.80" y="653.50" font-size="7.9" text-anchor="end" fill="#222"  stroke="#222" stroke-width="0.18">0</text>
<line x1="439.80" y1="628.10" x2="442.60" y2="628.10" stroke="#111" stroke-width="0.9"/>
<text x="439.80" y="630.80" font-size="7.9" text-anchor="end" fill="#222"  stroke="#222" stroke-width="0.18">1</text>
<line x1="439.80" y1="605.40" x2="442.60" y2="605.40" stroke="#111" stroke-width="0.9"/>
<text x="439.80" y="608.10" font-size="7.9" text-anchor="end" fill="#222"  stroke="#222" stroke-width="0.18">2</text>
<line x1="439.80" y1="582.70" x2="442.60" y2="582.70" stroke="#111" stroke-width="0.9"/>
<text x="439.80" y="585.40" font-size="7.9" text-anchor="end" fill="#222"  stroke="#222" stroke-width="0.18">3</text>
<line x1="439.80" y1="560.00" x2="442.60" y2="560.00" stroke="#111" stroke-width="0.9"/>
<text x="439.80" y="562.70" font-size="7.9" text-anchor="end" fill="#222"  stroke="#222" stroke-width="0.18">4</text>
<line x1="454.20" y1="650.80" x2="454.20" y2="653.30" stroke="#111" stroke-width="0.8"/>
<line x1="468.50" y1="650.80" x2="468.50" y2="653.30" stroke="#111" stroke-width="0.8"/>
<line x1="454.20" y1="593.30" x2="468.50" y2="572.80" stroke="#1a1a1a" stroke-width="0.9"/>
<line x1="454.20" y1="596.20" x2="468.50" y2="589.00" stroke="#1a1a1a" stroke-width="0.9"/>
<line x1="454.20" y1="619.30" x2="468.50" y2="599.30" stroke="#1a1a1a" stroke-width="0.9"/>
<line x1="454.20" y1="634.30" x2="468.50" y2="588.80" stroke="#1a1a1a" stroke-width="0.9"/>
<line x1="454.20" y1="624.90" x2="468.50" y2="614.90" stroke="#1a1a1a" stroke-width="0.9"/>
<line x1="454.20" y1="634.30" x2="468.50" y2="629.60" stroke="#1a1a1a" stroke-width="0.9"/>
<line x1="454.20" y1="644.80" x2="468.50" y2="637.70" stroke="#1a1a1a" stroke-width="0.9"/>
<line x1="454.20" y1="646.20" x2="468.50" y2="644.80" stroke="#1a1a1a" stroke-width="0.9"/>
<line x1="454.20" y1="647.30" x2="468.50" y2="646.70" stroke="#1a1a1a" stroke-width="0.9"/>
<circle cx="468.50" cy="572.80" r="2.1" fill="#1b4f86"/>
<circle cx="468.50" cy="589.00" r="2.1" fill="#1b4f86"/>
<circle cx="468.50" cy="599.30" r="2.1" fill="#1b4f86"/>
<circle cx="468.50" cy="588.80" r="2.1" fill="#1b4f86"/>
<circle cx="468.50" cy="614.90" r="2.1" fill="#1b4f86"/>
<circle cx="468.50" cy="629.60" r="2.1" fill="#1b4f86"/>
<circle cx="468.50" cy="637.70" r="2.1" fill="#1b4f86"/>
<circle cx="468.50" cy="644.80" r="2.1" fill="#1b4f86"/>
<circle cx="468.50" cy="646.70" r="2.1" fill="#1b4f86"/>
<circle cx="454.20" cy="593.30" r="2.1" fill="#c8103a"/>
<circle cx="454.20" cy="596.20" r="2.1" fill="#c8103a"/>
<circle cx="454.20" cy="619.30" r="2.1" fill="#c8103a"/>
<circle cx="454.20" cy="634.30" r="2.1" fill="#c8103a"/>
<circle cx="454.20" cy="624.90" r="2.1" fill="#c8103a"/>
<circle cx="454.20" cy="634.30" r="2.1" fill="#c8103a"/>
<circle cx="454.20" cy="644.80" r="2.1" fill="#c8103a"/>
<circle cx="454.20" cy="646.20" r="2.1" fill="#c8103a"/>
<circle cx="454.20" cy="647.30" r="2.1" fill="#c8103a"/>
<polyline points="453.40,589.30 453.40,565.50 468.50,565.50 468.50,567.40" fill="none" stroke="#111" stroke-width="0.8" stroke-linejoin="miter"/>
<text x="460.80" y="565.00" font-size="8.0" text-anchor="middle" fill="#111"  stroke="#111" stroke-width="0.18">*</text>
<text x="428.30" y="604.80" font-size="9.0" text-anchor="middle" fill="#222" textLength="80.40" lengthAdjust="spacingAndGlyphs" transform="rotate(-90 428.30 604.80)" stroke="#222" stroke-width="0.3">S100A8/A9<tspan font-size="5.6" dy="-3.0">hi</tspan><tspan dy="3.0"> frequency [%]</tspan></text>
<text x="457.40" y="659.20" font-size="8.0" text-anchor="end" fill="#222" transform="rotate(-45 457.40 659.20)"  stroke="#222" stroke-width="0.18">PB</text>
<text x="471.70" y="659.20" font-size="8.0" text-anchor="end" fill="#222" transform="rotate(-45 471.70 659.20)"  stroke="#222" stroke-width="0.18">BM</text>
</svg></body></html>
